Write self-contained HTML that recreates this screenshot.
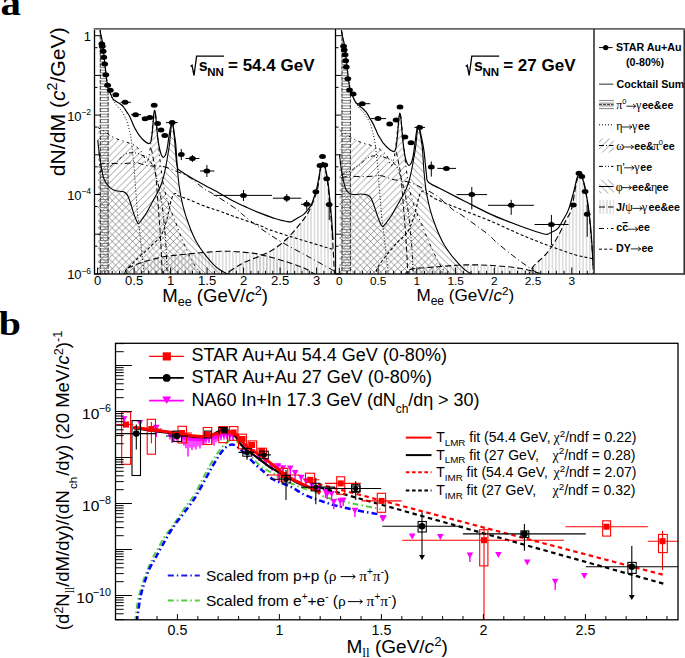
<!DOCTYPE html><html><head><meta charset="utf-8"><style>html,body{margin:0;padding:0;background:#fff;overflow:hidden;width:685px;height:658px;}svg{display:block;}</style></head><body><svg width="685" height="658" viewBox="0 0 685 658">
<defs>
<clipPath id="cL"><rect x="94" y="29" width="241.5" height="245"/></clipPath>
<clipPath id="cR"><rect x="335.5" y="29" width="258.5" height="245"/></clipPath>
<clipPath id="cB"><rect x="115.5" y="343.3" width="562.5" height="276.5"/></clipPath>
<pattern id="hS" patternUnits="userSpaceOnUse" width="6.8" height="6.8"><path d="M-1,1 L1,-1 M-1,7.8 L7.8,-1 M5.8,7.8 L7.8,5.8" stroke="#787878" stroke-width="0.75" fill="none"/></pattern>
<pattern id="hB" patternUnits="userSpaceOnUse" width="6.8" height="6.8"><path d="M-1,-1 L7.8,7.8 M5.8,-1 L7.8,1 M-1,5.8 L1,7.8" stroke="#787878" stroke-width="0.75" fill="none"/></pattern>
<pattern id="hV" patternUnits="userSpaceOnUse" width="3.4" height="10"><line x1="1.7" y1="0" x2="1.7" y2="10" stroke="#b4b4b4" stroke-width="0.8"/></pattern>
<pattern id="hH" patternUnits="userSpaceOnUse" width="10" height="2.75"><line x1="0" y1="1.4" x2="10" y2="1.4" stroke="#7c7c7c" stroke-width="1.0"/></pattern>
</defs>
<rect width="685" height="658" fill="#fff"/>
<text transform="translate(0.4,15.2) scale(1.17,1)" font-family="Liberation Serif, serif" font-weight="bold" font-size="35">a</text>
<text transform="translate(-1.3,334.6) scale(1.17,1)" font-family="Liberation Serif, serif" font-weight="bold" font-size="34">b</text>
<g clip-path="url(#cL)">
<path d="M124.0,276.0 C124.5,274.8 125.0,270.6 126.8,268.8 C128.6,267.0 131.7,266.3 135.0,265.0 C138.3,263.7 141.9,262.3 146.5,261.0 C151.1,259.7 158.4,257.9 162.3,257.0 C166.2,256.1 164.2,256.6 170.0,255.9 C175.8,255.2 188.3,253.9 197.4,253.1 C206.5,252.3 215.7,251.2 224.8,251.2 C233.9,251.2 245.3,252.3 252.2,253.1 C259.0,253.9 260.4,254.5 265.9,255.9 C271.4,257.3 279.3,259.5 285.0,261.3 C290.7,263.1 296.3,265.1 300.0,266.5 C303.7,267.9 304.0,267.9 307.0,269.5 C310.0,271.1 316.2,274.9 318.0,276.0 L318.0,276 L124.0,276 Z" fill="url(#hV)" stroke="none"/>
<path d="M222.0,277.0 C222.5,276.6 221.6,277.1 224.8,274.9 C228.0,272.7 235.3,267.2 241.2,264.0 C247.1,260.8 254.8,258.4 260.3,255.9 C265.8,253.4 269.4,252.0 274.0,249.0 C278.6,246.0 283.6,241.9 287.7,238.0 C291.8,234.1 295.4,229.6 298.6,225.7 C301.8,221.8 304.5,218.4 306.8,214.8 C309.1,211.2 310.5,208.5 312.3,203.9 C314.1,199.3 316.4,193.7 317.8,187.5 C319.2,181.3 319.8,171.1 320.5,167.0 C321.2,162.9 321.8,163.7 322.3,163.2 C322.9,162.7 323.3,162.9 323.8,164.0 C324.3,165.1 324.9,167.0 325.5,170.0 C326.1,173.0 326.8,177.0 327.5,182.0 C328.2,187.0 328.8,193.0 329.5,200.0 C330.2,207.0 330.9,215.7 331.5,224.0 C332.1,232.3 332.7,241.3 333.2,250.0 C333.7,258.7 334.3,271.7 334.5,276.0 L334.5,276 L222.0,276 Z" fill="url(#hV)" stroke="none"/>
<path d="M97.8,140.0 C97.9,141.3 98.3,145.5 98.6,148.0 C98.9,150.5 99.1,152.7 99.4,155.0 C99.7,157.3 100.1,159.5 100.5,162.0 C100.9,164.5 101.3,167.4 101.8,170.0 C102.3,172.6 102.9,175.6 103.5,177.5 C104.1,179.4 104.6,180.3 105.2,181.5 C105.8,182.7 106.3,183.4 107.1,184.4 C107.9,185.4 108.9,186.6 110.0,187.5 C111.1,188.4 112.3,189.4 113.6,190.0 C114.9,190.6 116.6,190.8 118.0,191.0 C119.4,191.2 120.9,191.3 122.0,191.5 C123.1,191.7 123.8,191.8 124.5,192.2 C125.2,192.6 125.9,193.1 126.5,193.8 C127.1,194.5 127.3,194.7 128.0,196.2 C128.7,197.7 129.6,200.4 130.5,203.0 C131.4,205.6 132.3,209.3 133.2,211.9 C134.0,214.5 134.9,216.8 135.6,218.5 C136.3,220.2 136.8,221.4 137.3,222.3 C137.8,223.2 138.0,223.7 138.4,223.7 C138.8,223.7 139.1,223.3 139.8,222.5 C140.5,221.7 141.4,220.4 142.5,218.8 C143.6,217.2 145.0,215.3 146.3,213.2 C147.6,211.1 148.9,208.4 150.2,206.0 C151.5,203.6 152.9,201.1 154.1,198.8 C155.3,196.6 156.4,194.7 157.5,192.5 C158.6,190.3 159.7,188.4 160.7,185.8 C161.7,183.2 162.6,180.3 163.5,177.0 C164.4,173.7 165.2,169.8 165.9,166.1 C166.6,162.4 167.2,158.3 167.8,155.0 C168.4,151.7 168.8,149.7 169.2,146.5 C169.6,143.3 170.0,139.2 170.3,136.0 C170.6,132.8 170.9,129.2 171.2,127.0 C171.5,124.8 171.8,123.2 172.1,123.0 C172.4,122.8 172.7,123.8 173.0,125.5 C173.3,127.2 173.8,130.0 174.2,133.0 C174.6,136.0 175.3,140.0 175.7,143.7 C176.1,147.4 176.2,151.1 176.5,155.0 C176.8,158.9 176.9,162.2 177.3,167.4 C177.8,172.6 178.3,180.1 179.2,186.4 C180.1,192.7 181.2,199.0 182.8,205.3 C184.4,211.6 186.5,218.4 188.7,224.3 C190.9,230.2 193.1,235.8 195.9,241.0 C198.7,246.2 202.2,251.1 205.4,255.2 C208.6,259.3 212.0,263.2 214.8,265.8 C217.6,268.4 219.6,269.5 222.0,271.0 C224.4,272.5 227.5,274.0 229.0,275.0 C230.5,276.0 230.7,276.7 231.0,277.0 L231.0,276 L97.8,276 Z" fill="url(#hB)" stroke="none"/>
<path d="M97.8,127.0 C98.2,127.3 99.0,128.3 100.0,129.0 C101.0,129.7 102.7,130.2 104.0,131.0 C105.3,131.8 106.7,133.1 108.0,134.0 C109.3,134.9 110.7,135.8 112.0,136.5 C113.3,137.2 114.7,137.9 116.0,138.5 C117.3,139.1 118.5,139.5 120.0,140.0 C121.5,140.5 123.5,141.0 125.0,141.5 C126.5,142.0 127.6,142.5 129.0,143.0 C130.4,143.5 132.0,143.9 133.2,144.5 C134.4,145.1 135.1,145.8 136.0,146.5 C136.9,147.2 137.8,147.9 138.6,148.7 C139.4,149.4 140.3,150.1 141.0,151.0 C141.7,151.9 142.4,152.8 143.0,154.0 C143.6,155.2 144.1,156.5 144.6,158.0 C145.1,159.5 145.4,162.3 145.8,163.0 C146.2,163.7 146.7,163.0 147.2,162.0 C147.7,161.0 148.3,159.3 148.8,157.0 C149.3,154.7 149.8,151.5 150.3,148.0 C150.8,144.5 151.2,139.8 151.6,136.0 C152.0,132.2 152.3,128.5 152.6,125.0 C152.9,121.5 153.3,117.2 153.6,115.0 C153.9,112.8 154.1,111.9 154.4,111.5 C154.7,111.1 154.9,111.2 155.2,112.5 C155.5,113.8 155.8,116.2 156.1,119.0 C156.4,121.8 156.7,125.5 157.0,129.0 C157.3,132.5 157.7,136.5 158.0,140.0 C158.3,143.5 158.7,146.7 159.0,150.0 C159.3,153.3 159.6,156.3 160.0,160.0 C160.4,163.7 161.0,168.3 161.5,172.0 C162.0,175.7 162.4,178.7 163.0,182.0 C163.6,185.3 164.2,188.8 165.0,192.0 C165.8,195.2 166.6,197.8 167.6,201.0 C168.6,204.2 169.7,207.5 171.0,211.0 C172.3,214.5 174.0,218.2 175.5,222.0 C177.0,225.8 178.4,230.0 180.0,234.0 C181.6,238.0 183.3,242.2 185.0,246.0 C186.7,249.8 188.3,253.7 190.0,257.0 C191.7,260.3 193.3,263.3 195.0,266.0 C196.7,268.7 198.7,271.2 200.0,273.0 C201.3,274.8 202.5,276.3 203.0,277.0 L203.0,276 L97.8,276 Z" fill="url(#hS)" stroke="none"/>
<path d="M99.8,276 L99.8,29.6 L100.5,34.7 L101.3,38.1 L102.0,41.5 L102.7,46.6 L103.5,52.8 L104.2,59.0 L104.9,65.6 L105.7,72.6 L106.4,79.6 L107.1,84.5 L107.9,88.7 L108.6,90.8 L108.6,276 Z" fill="url(#hH)"/>
<line x1="100.3" y1="29.6" x2="100.3" y2="276" stroke="#333" stroke-width="1.0" stroke-dasharray="4,1.6"/>
<line x1="108.1" y1="90.8" x2="108.1" y2="276" stroke="#333" stroke-width="1.0" stroke-dasharray="4,1.6"/>
<path d="M99.5,26.0 C99.8,27.7 100.4,32.0 101.0,36.0 C101.6,40.0 102.3,45.2 103.0,50.0 C103.7,54.8 104.3,60.2 105.0,65.0 C105.7,69.8 106.3,75.0 107.0,79.0 C107.7,83.0 108.4,86.5 109.0,89.0 C109.6,91.5 109.9,92.0 110.5,93.7 C111.1,95.5 112.0,98.0 112.7,99.5 C113.5,101.0 114.2,101.9 115.0,103.0 C115.8,104.1 116.7,105.3 117.5,106.3 C118.3,107.3 119.2,108.0 120.0,109.0 C120.8,110.0 121.6,111.1 122.5,112.5 C123.4,113.9 124.5,115.9 125.2,117.4 C126.0,118.9 126.4,119.6 127.0,121.5 C127.6,123.4 128.4,126.6 128.9,128.7 C129.4,130.8 129.8,131.9 130.2,134.0 C130.6,136.1 131.0,138.0 131.4,141.1 C131.8,144.2 132.2,148.4 132.6,152.3 C133.0,156.2 133.5,159.9 133.9,164.8 C134.3,169.8 134.7,176.1 135.1,182.0 C135.5,187.9 136.1,194.7 136.5,200.0 C136.9,205.3 137.1,210.2 137.5,214.0 C137.9,217.8 138.2,218.6 138.7,222.9 C139.2,227.2 139.9,234.5 140.5,240.0 C141.1,245.5 141.6,250.8 142.2,256.0 C142.8,261.2 143.6,268.2 143.9,271.5 C144.2,274.8 144.2,275.2 144.3,276.0" fill="none" stroke="#000" stroke-width="1.0" stroke-dasharray="1,2" />
<path d="M97.8,127.0 C98.2,127.3 99.0,128.3 100.0,129.0 C101.0,129.7 102.7,130.2 104.0,131.0 C105.3,131.8 106.7,133.1 108.0,134.0 C109.3,134.9 110.7,135.8 112.0,136.5 C113.3,137.2 114.7,137.9 116.0,138.5 C117.3,139.1 118.5,139.5 120.0,140.0 C121.5,140.5 123.5,141.0 125.0,141.5 C126.5,142.0 127.6,142.5 129.0,143.0 C130.4,143.5 132.0,143.9 133.2,144.5 C134.4,145.1 135.1,145.8 136.0,146.5 C136.9,147.2 137.8,147.9 138.6,148.7 C139.4,149.4 140.3,150.1 141.0,151.0 C141.7,151.9 142.4,152.8 143.0,154.0 C143.6,155.2 144.1,156.5 144.6,158.0 C145.1,159.5 145.4,162.3 145.8,163.0 C146.2,163.7 146.7,163.0 147.2,162.0 C147.7,161.0 148.3,159.3 148.8,157.0 C149.3,154.7 149.8,151.5 150.3,148.0 C150.8,144.5 151.2,139.8 151.6,136.0 C152.0,132.2 152.3,128.5 152.6,125.0 C152.9,121.5 153.3,117.2 153.6,115.0 C153.9,112.8 154.1,111.9 154.4,111.5 C154.7,111.1 154.9,111.2 155.2,112.5 C155.5,113.8 155.8,116.2 156.1,119.0 C156.4,121.8 156.7,125.5 157.0,129.0 C157.3,132.5 157.7,136.5 158.0,140.0 C158.3,143.5 158.7,146.7 159.0,150.0 C159.3,153.3 159.6,156.3 160.0,160.0 C160.4,163.7 161.0,168.3 161.5,172.0 C162.0,175.7 162.4,178.7 163.0,182.0 C163.6,185.3 164.2,188.8 165.0,192.0 C165.8,195.2 166.6,197.8 167.6,201.0 C168.6,204.2 169.7,207.5 171.0,211.0 C172.3,214.5 174.0,218.2 175.5,222.0 C177.0,225.8 178.4,230.0 180.0,234.0 C181.6,238.0 183.3,242.2 185.0,246.0 C186.7,249.8 188.3,253.7 190.0,257.0 C191.7,260.3 193.3,263.3 195.0,266.0 C196.7,268.7 198.7,271.2 200.0,273.0 C201.3,274.8 202.5,276.3 203.0,277.0" fill="none" stroke="#000" stroke-width="1.0" stroke-dasharray="3,3.5,1,3.5" />
<path d="M99.0,172.0 C99.8,171.7 102.2,170.9 104.0,170.0 C105.8,169.1 108.3,167.8 109.8,166.8 C111.3,165.8 111.8,164.9 113.0,164.0 C114.2,163.1 116.0,162.5 117.3,161.5 C118.5,160.5 119.4,159.1 120.5,158.0 C121.6,156.9 122.3,155.9 123.7,155.1 C125.1,154.3 126.9,153.3 129.0,153.0 C131.1,152.7 134.3,152.7 136.4,153.0 C138.5,153.3 139.9,154.4 141.7,155.1 C143.5,155.8 145.8,156.3 147.0,157.2 C148.2,158.1 148.2,158.9 149.2,160.4 C150.2,161.9 151.9,163.4 153.0,166.0 C154.1,168.6 155.0,172.3 156.0,176.0 C157.0,179.7 158.0,183.2 159.0,188.0 C160.0,192.8 161.2,199.3 162.0,205.0 C162.8,210.7 163.4,216.2 164.0,222.0 C164.6,227.8 165.2,234.0 165.6,240.0 C166.0,246.0 166.3,252.0 166.6,258.0 C166.9,264.0 167.1,273.0 167.2,276.0" fill="none" stroke="#000" stroke-width="1.0" stroke-dasharray="4,2,1,2,1,2" />
<path d="M99.0,165.0 C99.8,164.8 102.3,163.8 104.0,163.5 C105.7,163.2 106.8,163.3 109.0,163.3 C111.2,163.3 114.8,163.6 117.3,163.6 C119.8,163.6 121.6,163.7 123.7,163.6 C125.8,163.5 127.9,163.3 130.0,163.1 C132.1,162.9 134.5,162.4 136.4,162.6 C138.3,162.8 139.9,163.7 141.7,164.2 C143.5,164.7 145.3,165.2 147.0,165.5 C148.7,165.8 150.1,165.9 152.0,166.0 C153.9,166.1 156.1,165.8 158.3,166.0 C160.5,166.2 162.3,166.2 165.0,167.0 C167.7,167.8 170.6,168.8 174.5,170.5 C178.4,172.2 183.5,173.7 188.7,176.9 C193.9,180.1 201.5,187.1 205.5,189.9 C209.5,192.7 207.4,190.3 212.5,193.5 C217.6,196.7 230.9,205.2 236.2,209.0 C241.5,212.8 240.3,212.7 244.4,216.0 C248.5,219.3 254.8,224.3 261.0,228.7 C267.2,233.0 273.7,237.4 281.7,242.1 C289.7,246.8 300.7,252.4 309.0,257.0 C317.3,261.6 326.8,266.9 331.3,269.4 C335.8,271.9 335.2,271.6 336.0,272.0" fill="none" stroke="#000" stroke-width="1.0" stroke-dasharray="6,3,1,3" />
<path d="M123.5,276.0 C123.9,275.0 124.6,272.0 126.0,270.0 C127.4,268.0 129.8,266.2 132.0,264.0 C134.2,261.8 136.6,259.3 139.0,257.0 C141.4,254.7 144.3,252.4 146.5,250.4 C148.7,248.4 149.8,247.2 152.0,245.0 C154.2,242.8 157.7,240.0 159.7,237.3 C161.7,234.6 162.7,232.5 164.0,229.0 C165.3,225.5 166.5,220.6 167.6,216.3 C168.7,212.0 169.6,206.6 170.5,203.0 C171.4,199.4 172.4,196.3 173.3,194.7 C174.2,193.1 175.3,193.4 176.0,193.5 C176.7,193.6 175.6,194.4 177.7,195.4 C179.8,196.4 184.1,197.7 188.7,199.5 C193.3,201.3 200.3,204.6 205.5,206.5 C210.7,208.4 215.0,209.5 219.6,211.1 C224.2,212.7 226.3,213.7 233.2,216.2 C240.1,218.7 255.0,223.7 261.0,225.9 C267.0,228.2 262.8,227.4 269.3,229.7 C275.8,232.0 289.2,236.2 300.0,239.5 C310.8,242.8 327.8,247.8 333.8,249.6 C339.8,251.4 335.6,250.2 336.0,250.3" fill="none" stroke="#000" stroke-width="1.1" stroke-dasharray="3,2.2" />
<path d="M124.0,276.0 C124.5,274.8 125.0,270.6 126.8,268.8 C128.6,267.0 131.7,266.3 135.0,265.0 C138.3,263.7 141.9,262.3 146.5,261.0 C151.1,259.7 158.4,257.9 162.3,257.0 C166.2,256.1 164.2,256.6 170.0,255.9 C175.8,255.2 188.3,253.9 197.4,253.1 C206.5,252.3 215.7,251.2 224.8,251.2 C233.9,251.2 245.3,252.3 252.2,253.1 C259.0,253.9 260.4,254.5 265.9,255.9 C271.4,257.3 279.3,259.5 285.0,261.3 C290.7,263.1 296.3,265.1 300.0,266.5 C303.7,267.9 304.0,267.9 307.0,269.5 C310.0,271.1 316.2,274.9 318.0,276.0" fill="none" stroke="#000" stroke-width="1.1" stroke-dasharray="6,3" />
<path d="M222.0,277.0 C222.5,276.6 221.6,277.1 224.8,274.9 C228.0,272.7 235.3,267.2 241.2,264.0 C247.1,260.8 254.8,258.4 260.3,255.9 C265.8,253.4 269.4,252.0 274.0,249.0 C278.6,246.0 283.6,241.9 287.7,238.0 C291.8,234.1 295.4,229.6 298.6,225.7 C301.8,221.8 304.5,218.4 306.8,214.8 C309.1,211.2 310.5,208.5 312.3,203.9 C314.1,199.3 316.4,193.7 317.8,187.5 C319.2,181.3 319.8,171.1 320.5,167.0 C321.2,162.9 321.8,163.7 322.3,163.2 C322.9,162.7 323.3,162.9 323.8,164.0 C324.3,165.1 324.9,167.0 325.5,170.0 C326.1,173.0 326.8,177.0 327.5,182.0 C328.2,187.0 328.8,193.0 329.5,200.0 C330.2,207.0 330.9,215.7 331.5,224.0 C332.1,232.3 332.7,241.3 333.2,250.0 C333.7,258.7 334.3,271.7 334.5,276.0" fill="none" stroke="#000" stroke-width="1.1" stroke-dasharray="6,3" />
<path d="M151.3,148.7 C151.7,150.6 152.8,156.1 153.5,160.0 C154.2,163.9 154.9,167.0 155.5,172.0 C156.1,177.0 156.5,183.7 157.0,190.0 C157.5,196.3 158.0,203.3 158.5,210.0 C159.0,216.7 159.6,223.3 160.0,230.0 C160.4,236.7 160.8,242.3 161.2,250.0 C161.6,257.7 162.1,271.7 162.3,276.0" fill="none" stroke="#000" stroke-width="1.0" stroke-dasharray="5,3" />
<path d="M97.8,140.0 C97.9,141.3 98.3,145.5 98.6,148.0 C98.9,150.5 99.1,152.7 99.4,155.0 C99.7,157.3 100.1,159.5 100.5,162.0 C100.9,164.5 101.3,167.4 101.8,170.0 C102.3,172.6 102.9,175.6 103.5,177.5 C104.1,179.4 104.6,180.3 105.2,181.5 C105.8,182.7 106.3,183.4 107.1,184.4 C107.9,185.4 108.9,186.6 110.0,187.5 C111.1,188.4 112.3,189.4 113.6,190.0 C114.9,190.6 116.6,190.8 118.0,191.0 C119.4,191.2 120.9,191.3 122.0,191.5 C123.1,191.7 123.8,191.8 124.5,192.2 C125.2,192.6 125.9,193.1 126.5,193.8 C127.1,194.5 127.3,194.7 128.0,196.2 C128.7,197.7 129.6,200.4 130.5,203.0 C131.4,205.6 132.3,209.3 133.2,211.9 C134.0,214.5 134.9,216.8 135.6,218.5 C136.3,220.2 136.8,221.4 137.3,222.3 C137.8,223.2 138.0,223.7 138.4,223.7 C138.8,223.7 139.1,223.3 139.8,222.5 C140.5,221.7 141.4,220.4 142.5,218.8 C143.6,217.2 145.0,215.3 146.3,213.2 C147.6,211.1 148.9,208.4 150.2,206.0 C151.5,203.6 152.9,201.1 154.1,198.8 C155.3,196.6 156.4,194.7 157.5,192.5 C158.6,190.3 159.7,188.4 160.7,185.8 C161.7,183.2 162.6,180.3 163.5,177.0 C164.4,173.7 165.2,169.8 165.9,166.1 C166.6,162.4 167.2,158.3 167.8,155.0 C168.4,151.7 168.8,149.7 169.2,146.5 C169.6,143.3 170.0,139.2 170.3,136.0 C170.6,132.8 170.9,129.2 171.2,127.0 C171.5,124.8 171.8,123.2 172.1,123.0 C172.4,122.8 172.7,123.8 173.0,125.5 C173.3,127.2 173.8,130.0 174.2,133.0 C174.6,136.0 175.3,140.0 175.7,143.7 C176.1,147.4 176.2,151.1 176.5,155.0 C176.8,158.9 176.9,162.2 177.3,167.4 C177.8,172.6 178.3,180.1 179.2,186.4 C180.1,192.7 181.2,199.0 182.8,205.3 C184.4,211.6 186.5,218.4 188.7,224.3 C190.9,230.2 193.1,235.8 195.9,241.0 C198.7,246.2 202.2,251.1 205.4,255.2 C208.6,259.3 212.0,263.2 214.8,265.8 C217.6,268.4 219.6,269.5 222.0,271.0 C224.4,272.5 227.5,274.0 229.0,275.0 C230.5,276.0 230.7,276.7 231.0,277.0" fill="none" stroke="#000" stroke-width="1.1" />
<path d="M99.5,26.0 C99.7,27.2 100.0,30.4 100.5,33.0 C101.0,35.6 101.6,36.9 102.3,41.4 C103.0,45.9 103.8,53.6 104.5,60.0 C105.2,66.4 106.0,75.3 106.6,80.0 C107.2,84.7 107.4,85.9 108.0,88.0 C108.6,90.1 109.2,90.8 110.0,92.5 C110.8,94.2 111.7,97.0 112.7,98.5 C113.8,100.0 115.3,100.7 116.3,101.5 C117.3,102.3 118.1,102.5 118.9,103.1 C119.7,103.6 120.5,104.1 121.3,104.8 C122.1,105.5 123.0,106.2 123.9,107.5 C124.9,108.8 126.2,111.2 127.0,112.4 C127.8,113.7 128.2,113.7 128.9,115.0 C129.7,116.3 130.7,118.6 131.5,120.5 C132.3,122.4 133.1,124.5 133.9,126.2 C134.7,128.0 135.7,129.6 136.5,131.0 C137.3,132.4 138.1,133.8 138.9,134.9 C139.7,136.0 140.5,136.9 141.3,137.8 C142.1,138.7 143.0,139.7 143.9,140.5 C144.8,141.3 145.7,142.0 146.5,142.5 C147.3,143.0 148.2,143.6 148.8,143.6 C149.4,143.6 149.9,143.1 150.3,142.5 C150.7,141.9 151.0,141.7 151.3,139.9 C151.6,138.2 152.0,135.0 152.3,132.0 C152.6,129.0 152.9,125.2 153.2,122.0 C153.5,118.8 153.8,115.0 154.0,113.0 C154.2,111.0 154.5,110.0 154.7,110.0 C154.9,110.0 155.1,110.9 155.4,113.0 C155.7,115.1 156.0,119.1 156.3,122.4 C156.6,125.7 156.9,129.9 157.2,133.0 C157.5,136.1 157.8,138.3 158.2,141.1 C158.6,143.8 159.2,147.2 159.7,149.5 C160.2,151.8 160.8,153.5 161.3,154.8 C161.9,156.1 162.5,157.0 163.0,157.3 C163.5,157.6 163.9,157.3 164.5,156.5 C165.1,155.7 165.8,154.1 166.3,152.3 C166.8,150.6 167.2,148.5 167.6,146.0 C168.0,143.5 168.4,140.4 168.8,137.4 C169.2,134.4 169.9,130.2 170.3,128.0 C170.7,125.8 171.1,124.8 171.4,124.0 C171.7,123.2 171.8,123.1 172.1,123.2 C172.3,123.3 172.6,123.2 172.9,124.5 C173.2,125.8 173.5,128.3 173.8,131.2 C174.1,134.1 174.5,138.5 174.8,142.0 C175.1,145.5 175.3,148.7 175.6,152.0 C175.9,155.3 176.2,159.3 176.5,162.0 C176.8,164.7 177.3,166.7 177.7,168.0 C178.1,169.3 176.9,168.5 179.0,170.0 C181.1,171.5 185.6,174.4 190.0,177.0 C194.4,179.6 200.5,182.9 205.5,185.7 C210.5,188.4 215.4,190.9 220.0,193.5 C224.6,196.1 228.7,198.7 233.2,201.0 C237.7,203.3 242.4,205.4 247.0,207.5 C251.6,209.6 256.3,211.6 261.0,213.4 C265.7,215.2 270.4,217.1 275.0,218.5 C279.6,219.9 285.8,221.4 288.7,221.8 C291.6,222.2 291.3,221.6 292.7,221.0 C294.1,220.4 295.0,219.6 296.8,218.5 C298.6,217.4 301.8,216.0 303.7,214.4 C305.6,212.8 307.1,210.7 308.5,208.9 C309.9,207.1 310.9,205.6 311.9,203.4 C312.9,201.2 313.7,198.6 314.5,196.0 C315.3,193.4 316.1,191.2 316.8,188.0 C317.6,184.8 318.3,180.5 319.0,177.0 C319.7,173.5 320.2,169.4 320.8,167.0 C321.4,164.6 321.8,163.3 322.3,162.7 C322.8,162.1 323.3,162.4 323.8,163.5 C324.3,164.6 324.9,166.4 325.5,169.0 C326.1,171.6 326.8,174.3 327.5,178.8 C328.2,183.3 328.8,189.1 329.5,196.0 C330.2,202.9 331.1,213.1 331.7,220.4 C332.3,227.7 332.8,236.7 333.0,240.0" fill="none" stroke="#000" stroke-width="1.2" />
</g>
<ellipse cx="101.8" cy="44.0" rx="3.4" ry="2.5" fill="#000"/>
<ellipse cx="102.3" cy="46.3" rx="3.4" ry="2.5" fill="#000"/>
<ellipse cx="103.1" cy="51.3" rx="3.4" ry="2.5" fill="#000"/>
<ellipse cx="103.8" cy="57.2" rx="3.4" ry="2.5" fill="#000"/>
<ellipse cx="104.7" cy="63.9" rx="3.4" ry="2.5" fill="#000"/>
<ellipse cx="105.8" cy="74.8" rx="3.4" ry="2.5" fill="#000"/>
<ellipse cx="107.6" cy="85.2" rx="3.4" ry="2.5" fill="#000"/>
<ellipse cx="110.3" cy="90.2" rx="3.4" ry="2.5" fill="#000"/>
<ellipse cx="115.8" cy="94.7" rx="3.4" ry="2.5" fill="#000"/>
<line x1="120.6" y1="102.3" x2="130.9" y2="102.3" stroke="#000" stroke-width="1"/>
<ellipse cx="125.1" cy="102.3" rx="3.4" ry="2.5" fill="#000"/>
<line x1="131.0" y1="114.7" x2="141.0" y2="114.7" stroke="#000" stroke-width="1"/>
<ellipse cx="135.6" cy="114.7" rx="3.4" ry="2.5" fill="#000"/>
<ellipse cx="145.1" cy="118.7" rx="3.4" ry="2.5" fill="#000"/>
<ellipse cx="149.8" cy="117.5" rx="3.4" ry="2.5" fill="#000"/>
<ellipse cx="154.2" cy="105.2" rx="3.4" ry="2.5" fill="#000"/>
<ellipse cx="157.6" cy="123.6" rx="3.4" ry="2.5" fill="#000"/>
<ellipse cx="161.0" cy="130.1" rx="3.4" ry="2.5" fill="#000"/>
<ellipse cx="164.8" cy="135.4" rx="3.4" ry="2.5" fill="#000"/>
<line x1="166.0" y1="122.6" x2="177.7" y2="122.6" stroke="#000" stroke-width="1"/>
<ellipse cx="172.2" cy="122.6" rx="3.4" ry="2.5" fill="#000"/>
<line x1="181.3" y1="149.0" x2="181.3" y2="160.0" stroke="#000" stroke-width="1"/>
<ellipse cx="181.3" cy="154.4" rx="3.4" ry="2.5" fill="#000"/>
<line x1="185.5" y1="158.5" x2="199.4" y2="158.5" stroke="#000" stroke-width="1"/>
<line x1="192.4" y1="155.0" x2="192.4" y2="162.0" stroke="#000" stroke-width="1"/>
<ellipse cx="192.4" cy="158.5" rx="3.4" ry="2.5" fill="#000"/>
<line x1="200.0" y1="171.0" x2="214.4" y2="171.0" stroke="#000" stroke-width="1"/>
<line x1="206.9" y1="165.0" x2="206.9" y2="177.0" stroke="#000" stroke-width="1"/>
<ellipse cx="206.9" cy="171.0" rx="3.4" ry="2.5" fill="#000"/>
<line x1="213.8" y1="195.4" x2="272.0" y2="195.4" stroke="#000" stroke-width="1"/>
<line x1="243.5" y1="190.0" x2="243.5" y2="201.0" stroke="#000" stroke-width="1"/>
<ellipse cx="243.5" cy="195.4" rx="3.4" ry="2.5" fill="#000"/>
<line x1="272.9" y1="198.2" x2="301.2" y2="198.2" stroke="#000" stroke-width="1"/>
<line x1="286.8" y1="194.0" x2="286.8" y2="202.0" stroke="#000" stroke-width="1"/>
<ellipse cx="286.8" cy="198.2" rx="3.4" ry="2.5" fill="#000"/>
<line x1="301.0" y1="204.3" x2="312.0" y2="204.3" stroke="#000" stroke-width="1"/>
<line x1="306.7" y1="200.0" x2="306.7" y2="209.6" stroke="#000" stroke-width="1"/>
<ellipse cx="306.7" cy="204.3" rx="3.4" ry="2.5" fill="#000"/>
<ellipse cx="315.9" cy="191.8" rx="3.4" ry="2.5" fill="#000"/>
<ellipse cx="320.0" cy="165.5" rx="3.4" ry="2.5" fill="#000"/>
<ellipse cx="322.5" cy="156.6" rx="3.4" ry="2.5" fill="#000"/>
<ellipse cx="324.8" cy="164.9" rx="3.4" ry="2.5" fill="#000"/>
<ellipse cx="326.7" cy="178.8" rx="3.4" ry="2.5" fill="#000"/>
<line x1="329.2" y1="198.0" x2="329.2" y2="220.0" stroke="#000" stroke-width="1"/>
<ellipse cx="329.2" cy="204.6" rx="3.4" ry="2.5" fill="#000"/>
<g clip-path="url(#cR)">
<path d="M405.0,277.0 C405.8,275.8 404.6,271.2 410.0,269.5 C415.4,267.8 428.3,267.6 437.4,266.8 C446.5,266.0 455.6,265.1 464.7,264.9 C473.8,264.7 483.0,264.9 492.1,265.5 C501.2,266.1 511.2,266.8 519.4,268.2 C527.6,269.6 537.0,272.2 541.3,273.7 C545.6,275.2 544.4,276.4 545.0,277.0 L545.0,276 L405.0,276 Z" fill="url(#hV)" stroke="none"/>
<path d="M528.0,277.0 C528.8,275.3 529.9,270.8 533.0,266.8 C536.1,262.8 542.7,258.2 546.8,253.2 C550.9,248.2 554.5,242.3 557.7,236.8 C560.9,231.3 563.6,224.9 565.9,220.3 C568.2,215.7 569.8,214.9 571.4,209.4 C573.0,203.9 574.4,193.0 575.5,187.5 C576.6,182.0 577.4,178.5 578.2,176.5 C579.0,174.5 579.5,175.2 580.2,175.5 C580.9,175.8 581.6,176.8 582.3,178.5 C583.0,180.2 583.8,183.1 584.5,186.0 C585.2,188.9 585.7,192.0 586.4,196.0 C587.1,200.0 587.8,204.6 588.5,210.0 C589.2,215.4 589.8,221.1 590.5,228.6 C591.2,236.1 592.0,246.9 592.5,255.0 C593.0,263.1 593.3,273.3 593.5,277.0 L593.5,276 L528.0,276 Z" fill="url(#hV)" stroke="none"/>
<path d="M339.5,154.9 C339.7,156.1 340.1,160.0 340.4,162.3 C340.6,164.7 340.9,166.7 341.2,168.8 C341.5,170.9 342.0,172.9 342.4,175.1 C342.8,177.3 343.2,180.0 343.8,182.2 C344.3,184.5 345.0,187.1 345.6,188.6 C346.2,190.2 346.7,190.7 347.4,191.5 C348.0,192.3 348.5,192.7 349.4,193.2 C350.2,193.6 351.3,194.1 352.5,194.3 C353.6,194.6 354.9,194.5 356.3,194.5 C357.7,194.4 359.5,194.0 361.0,194.0 C362.4,194.0 364.1,194.3 365.2,194.5 C366.4,194.7 367.1,194.8 367.9,195.2 C368.7,195.6 369.4,196.1 370.0,196.8 C370.6,197.5 370.9,197.7 371.6,199.2 C372.3,200.7 373.3,203.4 374.2,206.0 C375.1,208.6 376.2,212.3 377.1,214.9 C378.0,217.5 378.9,219.8 379.6,221.5 C380.4,223.2 381.0,224.4 381.4,225.3 C381.9,226.2 382.2,226.7 382.6,226.7 C383.1,226.7 383.4,226.3 384.1,225.5 C384.8,224.7 385.8,223.4 387.0,221.8 C388.1,220.2 389.6,218.3 391.0,216.2 C392.4,214.1 393.8,211.4 395.1,209.0 C396.5,206.6 398.0,204.1 399.3,201.8 C400.6,199.6 401.7,197.7 402.9,195.5 C404.1,193.3 405.2,191.4 406.3,188.8 C407.4,186.2 408.3,183.3 409.3,180.0 C410.2,176.7 411.0,172.8 411.8,169.1 C412.6,165.4 413.2,161.3 413.8,158.0 C414.4,154.7 414.9,152.7 415.3,149.5 C415.8,146.3 416.1,142.2 416.5,139.0 C416.8,135.8 417.1,132.2 417.4,130.0 C417.8,127.8 418.1,126.2 418.4,126.0 C418.7,125.8 419.0,126.8 419.3,128.5 C419.7,130.2 420.1,133.0 420.6,136.0 C421.1,139.0 421.8,143.0 422.2,146.7 C422.6,150.4 422.8,154.1 423.1,158.0 C423.3,161.9 423.4,165.2 423.9,170.4 C424.4,175.6 425.0,183.1 425.9,189.4 C426.9,195.7 428.1,202.0 429.8,208.3 C431.4,214.6 433.7,221.4 436.0,227.3 C438.3,233.2 440.7,238.8 443.7,244.0 C446.6,249.2 450.4,254.1 453.7,258.2 C457.1,262.3 460.8,266.2 463.7,268.8 C466.7,271.4 468.9,272.5 471.4,274.0 C473.9,275.5 477.2,277.0 478.8,278.0 C480.4,279.0 480.6,279.7 480.9,280.0 L480.9,276 L339.5,276 Z" fill="url(#hB)" stroke="none"/>
<path d="M339.5,130.0 C339.9,130.3 340.8,131.3 341.8,132.0 C342.9,132.7 344.7,133.2 346.1,134.0 C347.5,134.8 348.9,136.1 350.3,137.0 C351.8,137.9 353.2,138.8 354.6,139.5 C356.0,140.2 357.4,140.9 358.8,141.5 C360.2,142.1 361.5,142.5 363.1,143.0 C364.7,143.5 366.8,144.0 368.4,144.5 C370.0,145.0 371.2,145.5 372.6,146.0 C374.1,146.5 375.9,146.9 377.1,147.5 C378.3,148.1 379.1,148.8 380.1,149.5 C381.0,150.2 381.9,150.9 382.8,151.7 C383.7,152.4 384.6,153.1 385.4,154.0 C386.2,154.9 386.9,155.8 387.5,157.0 C388.1,158.2 388.7,159.5 389.2,161.0 C389.7,162.5 390.0,165.3 390.5,166.0 C390.9,166.7 391.4,166.0 392.0,165.0 C392.5,164.0 393.1,162.3 393.7,160.0 C394.2,157.7 394.8,154.5 395.2,151.0 C395.7,147.5 396.2,142.8 396.6,139.0 C397.0,135.2 397.3,131.5 397.7,128.0 C398.0,124.5 398.4,120.2 398.8,118.0 C399.1,115.8 399.3,114.9 399.6,114.5 C399.9,114.1 400.1,114.2 400.5,115.5 C400.8,116.8 401.1,119.2 401.4,122.0 C401.7,124.8 402.0,128.5 402.4,132.0 C402.7,135.5 403.1,139.5 403.4,143.0 C403.8,146.5 404.1,149.7 404.5,153.0 C404.8,156.3 405.1,159.3 405.5,163.0 C406.0,166.7 406.6,171.3 407.1,175.0 C407.7,178.7 408.1,181.7 408.7,185.0 C409.4,188.3 410.0,191.8 410.9,195.0 C411.7,198.2 412.6,200.8 413.6,204.0 C414.7,207.2 415.8,210.5 417.2,214.0 C418.6,217.5 420.4,221.2 422.0,225.0 C423.6,228.8 425.1,233.0 426.8,237.0 C428.5,241.0 430.3,245.2 432.1,249.0 C433.9,252.8 435.6,256.7 437.4,260.0 C439.2,263.3 440.9,266.3 442.7,269.0 C444.5,271.7 446.6,274.2 448.0,276.0 C449.4,277.8 450.7,279.3 451.2,280.0 L451.2,276 L339.5,276 Z" fill="url(#hS)" stroke="none"/>
<path d="M341.5,276 L341.5,31.8 L342.3,36.9 L343.1,40.5 L343.8,44.0 L344.6,48.6 L345.4,54.8 L346.2,61.0 L347.0,67.5 L347.7,74.5 L348.5,81.5 L349.3,86.9 L350.1,91.1 L350.9,93.6 L350.9,276 Z" fill="url(#hH)"/>
<line x1="342.0" y1="31.8" x2="342.0" y2="276" stroke="#333" stroke-width="1.0" stroke-dasharray="4,1.6"/>
<line x1="350.4" y1="93.6" x2="350.4" y2="276" stroke="#333" stroke-width="1.0" stroke-dasharray="4,1.6"/>
<path d="M341.3,29.0 C341.6,30.7 342.3,35.0 342.9,39.0 C343.5,43.0 344.3,48.2 345.0,53.0 C345.7,57.8 346.4,63.2 347.2,68.0 C347.9,72.8 348.6,78.0 349.3,82.0 C350.0,86.0 350.8,89.5 351.4,92.0 C352.0,94.5 352.3,95.0 353.0,96.7 C353.6,98.5 354.5,101.0 355.3,102.5 C356.1,104.0 356.9,104.9 357.8,106.0 C358.6,107.1 359.5,108.3 360.4,109.3 C361.3,110.3 362.2,111.0 363.1,112.0 C364.0,113.0 364.8,114.1 365.7,115.5 C366.7,116.9 367.8,118.9 368.6,120.4 C369.4,121.9 369.9,122.6 370.5,124.5 C371.2,126.4 372.0,129.6 372.5,131.7 C373.1,133.8 373.5,134.9 373.9,137.0 C374.4,139.1 374.8,141.0 375.2,144.1 C375.6,147.2 376.0,151.4 376.5,155.3 C376.9,159.2 377.4,162.9 377.8,167.8 C378.3,172.8 378.7,179.1 379.1,185.0 C379.6,190.9 380.2,197.7 380.6,203.0 C381.0,208.3 381.3,213.2 381.7,217.0 C382.0,220.8 382.4,221.6 382.9,225.9 C383.5,230.2 384.2,237.5 384.8,243.0 C385.5,248.5 386.0,253.8 386.6,259.0 C387.3,264.2 388.1,271.2 388.5,274.5 C388.8,277.8 388.8,278.2 388.9,279.0" fill="none" stroke="#000" stroke-width="1.0" stroke-dasharray="1,2" />
<path d="M339.5,130.0 C339.9,130.3 340.8,131.3 341.8,132.0 C342.9,132.7 344.7,133.2 346.1,134.0 C347.5,134.8 348.9,136.1 350.3,137.0 C351.8,137.9 353.2,138.8 354.6,139.5 C356.0,140.2 357.4,140.9 358.8,141.5 C360.2,142.1 361.5,142.5 363.1,143.0 C364.7,143.5 366.8,144.0 368.4,144.5 C370.0,145.0 371.2,145.5 372.6,146.0 C374.1,146.5 375.9,146.9 377.1,147.5 C378.3,148.1 379.1,148.8 380.1,149.5 C381.0,150.2 381.9,150.9 382.8,151.7 C383.7,152.4 384.6,153.1 385.4,154.0 C386.2,154.9 386.9,155.8 387.5,157.0 C388.1,158.2 388.7,159.5 389.2,161.0 C389.7,162.5 390.0,165.3 390.5,166.0 C390.9,166.7 391.4,166.0 392.0,165.0 C392.5,164.0 393.1,162.3 393.7,160.0 C394.2,157.7 394.8,154.5 395.2,151.0 C395.7,147.5 396.2,142.8 396.6,139.0 C397.0,135.2 397.3,131.5 397.7,128.0 C398.0,124.5 398.4,120.2 398.8,118.0 C399.1,115.8 399.3,114.9 399.6,114.5 C399.9,114.1 400.1,114.2 400.5,115.5 C400.8,116.8 401.1,119.2 401.4,122.0 C401.7,124.8 402.0,128.5 402.4,132.0 C402.7,135.5 403.1,139.5 403.4,143.0 C403.8,146.5 404.1,149.7 404.5,153.0 C404.8,156.3 405.1,159.3 405.5,163.0 C406.0,166.7 406.6,171.3 407.1,175.0 C407.7,178.7 408.1,181.7 408.7,185.0 C409.4,188.3 410.0,191.8 410.9,195.0 C411.7,198.2 412.6,200.8 413.6,204.0 C414.7,207.2 415.8,210.5 417.2,214.0 C418.6,217.5 420.4,221.2 422.0,225.0 C423.6,228.8 425.1,233.0 426.8,237.0 C428.5,241.0 430.3,245.2 432.1,249.0 C433.9,252.8 435.6,256.7 437.4,260.0 C439.2,263.3 440.9,266.3 442.7,269.0 C444.5,271.7 446.6,274.2 448.0,276.0 C449.4,277.8 450.7,279.3 451.2,280.0" fill="none" stroke="#000" stroke-width="1.0" stroke-dasharray="3,3.5,1,3.5" />
<path d="M340.8,175.0 C341.7,174.7 344.2,173.9 346.1,173.0 C348.0,172.1 350.7,170.8 352.3,169.8 C353.8,168.8 354.3,167.9 355.6,167.0 C357.0,166.1 358.9,165.5 360.2,164.5 C361.5,163.5 362.5,162.1 363.6,161.0 C364.7,159.9 365.5,158.9 367.0,158.1 C368.5,157.3 370.4,156.3 372.6,156.0 C374.9,155.7 378.2,155.7 380.5,156.0 C382.7,156.3 384.2,157.4 386.1,158.1 C388.0,158.8 390.4,159.3 391.7,160.2 C393.1,161.1 393.0,161.9 394.1,163.4 C395.1,164.9 396.9,166.4 398.1,169.0 C399.3,171.6 400.2,175.3 401.3,179.0 C402.4,182.7 403.4,186.2 404.5,191.0 C405.5,195.8 406.8,202.3 407.7,208.0 C408.6,213.7 409.2,219.2 409.8,225.0 C410.4,230.8 411.0,237.0 411.5,243.0 C412.0,249.0 412.3,255.0 412.6,261.0 C412.8,267.0 413.1,276.0 413.2,279.0" fill="none" stroke="#000" stroke-width="1.0" stroke-dasharray="4,2,1,2,1,2" />
<path d="M340.8,178.0 C341.7,177.8 344.3,176.8 346.1,176.5 C347.9,176.2 349.0,176.3 351.4,176.3 C353.8,176.3 357.6,176.6 360.2,176.6 C362.8,176.6 364.8,176.7 367.0,176.6 C369.3,176.5 371.5,176.3 373.7,176.1 C375.9,175.9 378.4,175.4 380.5,175.6 C382.6,175.8 384.2,176.6 386.1,177.2 C388.0,177.8 389.9,178.7 391.7,179.2 C393.6,179.7 395.1,179.9 397.1,180.2 C399.1,180.5 401.4,180.5 403.7,181.0 C406.0,181.4 408.0,181.7 410.9,182.7 C413.7,183.8 416.7,185.2 420.9,187.4 C425.1,189.5 430.5,191.6 436.0,195.4 C441.5,199.2 449.6,207.1 453.9,210.4 C458.1,213.6 455.9,211.0 461.3,214.8 C466.7,218.6 480.8,228.7 486.4,233.0 C492.1,237.4 490.8,237.2 495.1,241.0 C499.5,244.8 506.2,250.6 512.8,255.6 C519.4,260.7 526.3,265.8 534.7,271.4 C543.2,277.1 555.0,284.0 563.7,289.5 C572.5,295.0 582.6,301.5 587.4,304.5 C592.2,307.5 591.6,307.1 592.4,307.7" fill="none" stroke="#000" stroke-width="1.0" stroke-dasharray="6,3,1,3" />
<path d="M376.0,277.0 C376.4,275.2 375.0,271.9 378.2,266.5 C381.4,261.1 390.2,250.5 395.0,244.9 C399.8,239.3 403.8,237.7 407.0,232.9 C410.2,228.1 412.2,222.0 414.2,216.0 C416.2,210.0 417.7,200.9 419.0,196.8 C420.3,192.7 421.0,192.3 422.0,191.5 C423.0,190.7 422.4,190.6 425.0,192.0 C427.6,193.4 430.8,196.7 437.4,199.8 C444.0,202.9 455.6,207.2 464.7,210.8 C473.8,214.5 483.0,217.8 492.1,221.7 C501.2,225.6 510.3,230.1 519.4,234.0 C528.5,237.9 537.7,241.6 546.8,245.0 C555.9,248.4 566.6,252.2 574.1,254.5 C581.6,256.8 588.2,257.7 591.9,258.6 C595.5,259.5 595.3,259.8 596.0,260.0" fill="none" stroke="#000" stroke-width="1.1" stroke-dasharray="3,2.2" />
<path d="M405.0,277.0 C405.8,275.8 404.6,271.2 410.0,269.5 C415.4,267.8 428.3,267.6 437.4,266.8 C446.5,266.0 455.6,265.1 464.7,264.9 C473.8,264.7 483.0,264.9 492.1,265.5 C501.2,266.1 511.2,266.8 519.4,268.2 C527.6,269.6 537.0,272.2 541.3,273.7 C545.6,275.2 544.4,276.4 545.0,277.0" fill="none" stroke="#000" stroke-width="1.1" stroke-dasharray="6,3" />
<path d="M528.0,277.0 C528.8,275.3 529.9,270.8 533.0,266.8 C536.1,262.8 542.7,258.2 546.8,253.2 C550.9,248.2 554.5,242.3 557.7,236.8 C560.9,231.3 563.6,224.9 565.9,220.3 C568.2,215.7 569.8,214.9 571.4,209.4 C573.0,203.9 574.4,193.0 575.5,187.5 C576.6,182.0 577.4,178.5 578.2,176.5 C579.0,174.5 579.5,175.2 580.2,175.5 C580.9,175.8 581.6,176.8 582.3,178.5 C583.0,180.2 583.8,183.1 584.5,186.0 C585.2,188.9 585.7,192.0 586.4,196.0 C587.1,200.0 587.8,204.6 588.5,210.0 C589.2,215.4 589.8,221.1 590.5,228.6 C591.2,236.1 592.0,246.9 592.5,255.0 C593.0,263.1 593.3,273.3 593.5,277.0" fill="none" stroke="#000" stroke-width="1.1" stroke-dasharray="6,3" />
<path d="M396.3,151.7 C396.7,153.6 397.9,159.1 398.6,163.0 C399.4,166.9 400.1,170.0 400.8,175.0 C401.4,180.0 401.8,186.7 402.4,193.0 C402.9,199.3 403.4,206.3 404.0,213.0 C404.5,219.7 405.1,226.3 405.5,233.0 C406.0,239.7 406.4,245.3 406.8,253.0 C407.2,260.7 407.8,274.7 408.0,279.0" fill="none" stroke="#000" stroke-width="1.0" stroke-dasharray="5,3" />
<path d="M339.5,154.9 C339.7,156.1 340.1,160.0 340.4,162.3 C340.6,164.7 340.9,166.7 341.2,168.8 C341.5,170.9 342.0,172.9 342.4,175.1 C342.8,177.3 343.2,180.0 343.8,182.2 C344.3,184.5 345.0,187.1 345.6,188.6 C346.2,190.2 346.7,190.7 347.4,191.5 C348.0,192.3 348.5,192.7 349.4,193.2 C350.2,193.6 351.3,194.1 352.5,194.3 C353.6,194.6 354.9,194.5 356.3,194.5 C357.7,194.4 359.5,194.0 361.0,194.0 C362.4,194.0 364.1,194.3 365.2,194.5 C366.4,194.7 367.1,194.8 367.9,195.2 C368.7,195.6 369.4,196.1 370.0,196.8 C370.6,197.5 370.9,197.7 371.6,199.2 C372.3,200.7 373.3,203.4 374.2,206.0 C375.1,208.6 376.2,212.3 377.1,214.9 C378.0,217.5 378.9,219.8 379.6,221.5 C380.4,223.2 381.0,224.4 381.4,225.3 C381.9,226.2 382.2,226.7 382.6,226.7 C383.1,226.7 383.4,226.3 384.1,225.5 C384.8,224.7 385.8,223.4 387.0,221.8 C388.1,220.2 389.6,218.3 391.0,216.2 C392.4,214.1 393.8,211.4 395.1,209.0 C396.5,206.6 398.0,204.1 399.3,201.8 C400.6,199.6 401.7,197.7 402.9,195.5 C404.1,193.3 405.2,191.4 406.3,188.8 C407.4,186.2 408.3,183.3 409.3,180.0 C410.2,176.7 411.0,172.8 411.8,169.1 C412.6,165.4 413.2,161.3 413.8,158.0 C414.4,154.7 414.9,152.7 415.3,149.5 C415.8,146.3 416.1,142.2 416.5,139.0 C416.8,135.8 417.1,132.2 417.4,130.0 C417.8,127.8 418.1,126.2 418.4,126.0 C418.7,125.8 419.0,126.8 419.3,128.5 C419.7,130.2 420.1,133.0 420.6,136.0 C421.1,139.0 421.8,143.0 422.2,146.7 C422.6,150.4 422.8,154.1 423.1,158.0 C423.3,161.9 423.4,165.2 423.9,170.4 C424.4,175.6 425.0,183.1 425.9,189.4 C426.9,195.7 428.1,202.0 429.8,208.3 C431.4,214.6 433.7,221.4 436.0,227.3 C438.3,233.2 440.7,238.8 443.7,244.0 C446.6,249.2 450.4,254.1 453.7,258.2 C457.1,262.3 460.8,266.2 463.7,268.8 C466.7,271.4 468.9,272.5 471.4,274.0 C473.9,275.5 477.2,277.0 478.8,278.0 C480.4,279.0 480.6,279.7 480.9,280.0" fill="none" stroke="#000" stroke-width="1.1" />
<path d="M341.3,29.0 C341.5,30.2 341.9,33.4 342.4,36.0 C342.9,38.6 343.6,39.9 344.3,44.4 C345.0,48.9 345.9,56.6 346.6,63.0 C347.4,69.4 348.2,78.3 348.9,83.0 C349.5,87.7 349.7,88.9 350.3,91.0 C350.9,93.1 351.6,93.7 352.5,95.5 C353.3,97.3 354.2,99.9 355.3,101.6 C356.4,103.3 358.1,104.6 359.2,105.6 C360.2,106.7 361.0,107.2 361.9,107.9 C362.8,108.7 363.6,109.3 364.5,110.3 C365.3,111.3 366.2,112.2 367.2,113.7 C368.2,115.2 369.6,118.0 370.5,119.5 C371.4,120.9 371.7,121.1 372.5,122.6 C373.3,124.1 374.4,126.6 375.3,128.5 C376.2,130.4 377.0,132.4 377.8,134.2 C378.7,135.9 379.7,137.6 380.6,139.0 C381.5,140.4 382.3,141.8 383.1,142.9 C384.0,144.0 384.8,144.9 385.7,145.8 C386.6,146.7 387.5,147.7 388.5,148.5 C389.4,149.3 390.3,150.0 391.2,150.5 C392.1,151.0 393.0,151.6 393.7,151.6 C394.3,151.6 394.8,151.2 395.2,150.3 C395.7,149.3 396.0,148.3 396.3,145.9 C396.7,143.6 397.0,139.8 397.4,136.3 C397.7,132.8 398.0,128.4 398.3,125.0 C398.6,121.6 398.9,118.0 399.2,116.0 C399.4,114.0 399.7,113.0 399.9,113.0 C400.2,113.0 400.4,113.9 400.7,116.0 C400.9,118.1 401.3,122.2 401.6,125.8 C401.9,129.4 402.2,134.1 402.6,137.6 C402.9,141.2 403.2,143.8 403.6,147.1 C404.1,150.4 404.7,154.9 405.2,157.5 C405.8,160.1 406.3,161.5 406.9,162.8 C407.5,164.1 408.2,165.0 408.7,165.3 C409.3,165.6 409.7,165.3 410.3,164.5 C410.9,163.7 411.7,162.2 412.2,160.3 C412.8,158.4 413.2,156.1 413.6,153.3 C414.1,150.4 414.4,146.8 414.9,143.3 C415.4,139.8 416.0,134.9 416.5,132.2 C416.9,129.5 417.3,128.0 417.6,127.0 C418.0,126.0 418.1,126.1 418.4,126.2 C418.7,126.3 418.4,123.7 419.2,127.5 C420.1,131.3 422.5,141.5 423.7,149.2 C424.9,156.9 425.6,168.3 426.4,173.8 C427.1,179.3 425.9,179.6 428.2,182.0 C430.5,184.4 433.9,185.3 440.0,188.5 C446.1,191.7 456.0,196.8 464.7,201.2 C473.4,205.6 483.0,210.8 492.1,214.9 C501.2,219.0 510.8,222.6 519.4,225.8 C528.0,229.0 538.9,232.8 544.0,234.0 C549.1,235.2 547.7,233.9 550.0,233.0 C552.3,232.1 555.5,230.8 557.7,228.6 C559.9,226.4 561.2,223.2 563.0,220.0 C564.8,216.8 566.8,214.3 568.6,209.4 C570.5,204.5 572.8,195.2 574.1,190.3 C575.4,185.4 575.8,182.5 576.5,180.0 C577.2,177.5 577.5,175.9 578.2,175.2 C578.9,174.4 579.8,175.0 580.5,175.5 C581.2,176.0 581.6,176.4 582.3,178.0 C583.0,179.6 583.8,182.2 584.5,185.0 C585.2,187.8 585.7,191.2 586.4,195.0 C587.1,198.8 587.8,202.9 588.5,208.0 C589.2,213.1 589.9,219.6 590.5,225.8 C591.1,232.0 591.6,238.5 592.0,245.0 C592.4,251.5 592.8,261.7 593.0,265.0" fill="none" stroke="#000" stroke-width="1.2" />
</g>
<ellipse cx="343.6" cy="46.3" rx="3.4" ry="2.5" fill="#000"/>
<ellipse cx="344.2" cy="50.1" rx="3.4" ry="2.5" fill="#000"/>
<ellipse cx="345.1" cy="54.8" rx="3.4" ry="2.5" fill="#000"/>
<ellipse cx="345.7" cy="60.7" rx="3.4" ry="2.5" fill="#000"/>
<ellipse cx="346.3" cy="67.1" rx="3.4" ry="2.5" fill="#000"/>
<ellipse cx="347.8" cy="78.8" rx="3.4" ry="2.5" fill="#000"/>
<ellipse cx="349.5" cy="89.9" rx="3.4" ry="2.5" fill="#000"/>
<ellipse cx="353.1" cy="94.1" rx="3.4" ry="2.5" fill="#000"/>
<line x1="356.3" y1="103.7" x2="370.2" y2="103.7" stroke="#000" stroke-width="1"/>
<ellipse cx="362.3" cy="103.7" rx="3.4" ry="2.5" fill="#000"/>
<line x1="370.2" y1="118.6" x2="386.1" y2="118.6" stroke="#000" stroke-width="1"/>
<ellipse cx="378.0" cy="118.6" rx="3.4" ry="2.5" fill="#000"/>
<ellipse cx="389.7" cy="123.9" rx="3.4" ry="2.5" fill="#000"/>
<ellipse cx="396.1" cy="120.1" rx="3.4" ry="2.5" fill="#000"/>
<ellipse cx="400.0" cy="106.9" rx="3.4" ry="2.5" fill="#000"/>
<ellipse cx="404.9" cy="137.1" rx="3.4" ry="2.5" fill="#000"/>
<ellipse cx="411.0" cy="142.7" rx="3.4" ry="2.5" fill="#000"/>
<line x1="414.4" y1="127.4" x2="425.1" y2="127.4" stroke="#000" stroke-width="1"/>
<ellipse cx="419.6" cy="127.4" rx="3.4" ry="2.5" fill="#000"/>
<line x1="431.3" y1="161.5" x2="431.3" y2="176.6" stroke="#000" stroke-width="1"/>
<ellipse cx="431.3" cy="167.0" rx="3.4" ry="2.5" fill="#000"/>
<line x1="437.4" y1="168.4" x2="456.0" y2="168.4" stroke="#000" stroke-width="1"/>
<ellipse cx="446.4" cy="168.4" rx="3.4" ry="2.5" fill="#000"/>
<line x1="456.5" y1="194.6" x2="487.1" y2="194.6" stroke="#000" stroke-width="1"/>
<line x1="471.8" y1="187.0" x2="471.8" y2="209.4" stroke="#000" stroke-width="1"/>
<ellipse cx="471.8" cy="194.6" rx="3.4" ry="2.5" fill="#000"/>
<line x1="488.0" y1="205.3" x2="533.9" y2="205.3" stroke="#000" stroke-width="1"/>
<line x1="511.2" y1="199.8" x2="511.2" y2="214.9" stroke="#000" stroke-width="1"/>
<ellipse cx="511.2" cy="205.3" rx="3.4" ry="2.5" fill="#000"/>
<line x1="534.5" y1="224.5" x2="568.6" y2="224.5" stroke="#000" stroke-width="1"/>
<line x1="551.4" y1="214.9" x2="551.4" y2="245.0" stroke="#000" stroke-width="1"/>
<ellipse cx="551.4" cy="224.5" rx="3.4" ry="2.5" fill="#000"/>
<ellipse cx="573.3" cy="205.0" rx="3.4" ry="2.5" fill="#000"/>
<ellipse cx="579.0" cy="173.3" rx="3.4" ry="2.5" fill="#000"/>
<ellipse cx="581.8" cy="176.6" rx="3.4" ry="2.5" fill="#000"/>
<ellipse cx="585.1" cy="191.6" rx="3.4" ry="2.5" fill="#000"/>
<line x1="587.2" y1="205.0" x2="587.2" y2="236.8" stroke="#000" stroke-width="1"/>
<ellipse cx="587.2" cy="214.3" rx="3.4" ry="2.5" fill="#000"/>
<rect x="94.5" y="29" width="590" height="245" fill="none" stroke="#000" stroke-width="1.3"/>
<line x1="93.8" y1="28.9" x2="684.5" y2="28.9" stroke="#fff" stroke-width="2"/>
<line x1="93.8" y1="28.9" x2="684.5" y2="28.9" stroke="#666" stroke-width="1.8"/>
<line x1="335.5" y1="29" x2="335.5" y2="274" stroke="#000" stroke-width="1.3"/>
<line x1="594" y1="29" x2="594" y2="274" stroke="#333" stroke-width="1.6"/>
<line x1="684" y1="29" x2="684" y2="274" stroke="#555" stroke-width="1.2"/>
<path d="M94.5,35.7 h6 M94.5,47.7 h3 M94.5,75.4 h6 M94.5,87.4 h3 M94.5,115.1 h6 M94.5,127.1 h3 M94.5,154.8 h6 M94.5,166.8 h3 M94.5,194.5 h6 M94.5,206.5 h3 M94.5,234.2 h6 M94.5,246.2 h3 M94.5,273.9 h6 M335.5,35.7 h6 M335.5,47.7 h3 M335.5,75.4 h6 M335.5,87.4 h3 M335.5,115.1 h6 M335.5,127.1 h3 M335.5,154.8 h6 M335.5,166.8 h3 M335.5,194.5 h6 M335.5,206.5 h3 M335.5,234.2 h6 M335.5,246.2 h3 M335.5,273.9 h6 M97.6,274 v-6.5 M104.9,274 v-3.2 M112.2,274 v-3.2 M119.5,274 v-3.2 M126.8,274 v-3.2 M134.1,274 v-6.5 M141.4,274 v-3.2 M148.7,274 v-3.2 M156.0,274 v-3.2 M163.3,274 v-3.2 M170.6,274 v-6.5 M177.9,274 v-3.2 M185.2,274 v-3.2 M192.5,274 v-3.2 M199.8,274 v-3.2 M207.1,274 v-6.5 M214.4,274 v-3.2 M221.7,274 v-3.2 M229.0,274 v-3.2 M236.3,274 v-3.2 M243.6,274 v-6.5 M250.9,274 v-3.2 M258.2,274 v-3.2 M265.5,274 v-3.2 M272.8,274 v-3.2 M280.1,274 v-6.5 M287.4,274 v-3.2 M294.7,274 v-3.2 M302.0,274 v-3.2 M309.3,274 v-3.2 M316.6,274 v-6.5 M323.9,274 v-3.2 M331.2,274 v-3.2 M339.3,274 v-6.5 M347.1,274 v-3.2 M354.8,274 v-3.2 M362.6,274 v-3.2 M370.3,274 v-3.2 M378.1,274 v-6.5 M385.8,274 v-3.2 M393.6,274 v-3.2 M401.3,274 v-3.2 M409.1,274 v-3.2 M416.8,274 v-6.5 M424.6,274 v-3.2 M432.3,274 v-3.2 M440.1,274 v-3.2 M447.8,274 v-3.2 M455.6,274 v-6.5 M463.3,274 v-3.2 M471.1,274 v-3.2 M478.8,274 v-3.2 M486.6,274 v-3.2 M494.3,274 v-6.5 M502.1,274 v-3.2 M509.8,274 v-3.2 M517.5,274 v-3.2 M525.3,274 v-3.2 M533.0,274 v-6.5 M540.8,274 v-3.2 M548.5,274 v-3.2 M556.3,274 v-3.2 M564.0,274 v-3.2 M571.8,274 v-6.5 M579.5,274 v-3.2 M587.3,274 v-3.2" stroke="#000" stroke-width="1" fill="none"/>
<g font-family="Liberation Sans, sans-serif" font-size="13" fill="#000"><text x="97.6" y="285.3" text-anchor="middle">0</text><text x="134.1" y="285.3" text-anchor="middle">0.5</text><text x="170.6" y="285.3" text-anchor="middle">1</text><text x="207.1" y="285.3" text-anchor="middle">1.5</text><text x="243.6" y="285.3" text-anchor="middle">2</text><text x="280.1" y="285.3" text-anchor="middle">2.5</text><text x="316.6" y="285.3" text-anchor="middle">3</text></g>
<g font-family="Liberation Sans, sans-serif" font-size="11.8" fill="#000"><text x="339.3" y="284.6" text-anchor="middle">0</text><text x="378.1" y="284.6" text-anchor="middle">0.5</text><text x="416.8" y="284.6" text-anchor="middle">1</text><text x="455.6" y="284.6" text-anchor="middle">1.5</text><text x="494.3" y="284.6" text-anchor="middle">2</text><text x="533.0" y="284.6" text-anchor="middle">2.5</text><text x="571.8" y="284.6" text-anchor="middle">3</text></g>
<g font-family="Liberation Sans, sans-serif" font-size="13" fill="#000"><text x="91" y="40.8" text-anchor="end">1</text><text x="81.6" y="120.5" text-anchor="end">10</text><text x="81.2" y="114.7" font-size="8.6">−2</text><text x="81.6" y="199.9" text-anchor="end">10</text><text x="81.2" y="194.1" font-size="8.6">−4</text><text x="81.6" y="279.3" text-anchor="end">10</text><text x="81.2" y="273.5" font-size="8.6">−6</text></g>
<text font-family="Liberation Sans, sans-serif" font-size="18.6" x="162.2" y="301.5">M<tspan font-size="12.6" dy="4.3">ee</tspan><tspan dy="-4.3"> (GeV/</tspan><tspan font-style="italic">c</tspan><tspan font-size="12.6" dy="-6.5">2</tspan><tspan dy="6.5">)</tspan></text>
<text font-family="Liberation Sans, sans-serif" font-size="17.1" x="416.4" y="301">M<tspan font-size="12" dy="4">ee</tspan><tspan dy="-4"> (GeV/</tspan><tspan font-style="italic">c</tspan><tspan font-size="11.7" dy="-6">2</tspan><tspan dy="6">)</tspan></text>
<text font-family="Liberation Sans, sans-serif" font-size="21" textLength="149" lengthAdjust="spacingAndGlyphs" transform="translate(64.8,176.3) rotate(-90)">dN/dM (<tspan font-style="italic">c</tspan><tspan font-size="14" dy="-7.5">2</tspan><tspan dy="7.5">/GeV)</tspan></text>
<g font-family="Liberation Sans, sans-serif" font-weight="bold"><path d="M190.6,66.5 l1.4,-1.2 l2.0,10.2 l2.6,-19.3 h27.4" fill="none" stroke="#000" stroke-width="1.3"/><text x="198.8" y="70.6" font-size="16">s</text><text x="207.2" y="75.6" font-size="11.5">NN</text><text x="228.0" y="70.9" font-size="17">= 54.4 GeV</text></g>
<g font-family="Liberation Sans, sans-serif" font-weight="bold"><path d="M465.8,66.5 l1.4,-1.2 l2.0,10.2 l2.6,-19.3 h27.4" fill="none" stroke="#000" stroke-width="1.3"/><text x="474.0" y="70.6" font-size="16">s</text><text x="482.4" y="75.6" font-size="11.5">NN</text><text x="503.2" y="70.9" font-size="17">= 27 GeV</text></g>
<line x1="599" y1="47.6" x2="612.6" y2="47.6" stroke="#000" stroke-width="1"/><circle cx="605.7" cy="47.6" r="2.7" fill="#000"/>
<line x1="599" y1="84.2" x2="613.3" y2="84.2" stroke="#666" stroke-width="1.4"/>
<rect x="599" y="98.8" width="15" height="11.4" fill="url(#hH)"/>
<line x1="599" y1="104.5" x2="613.5" y2="104.5" stroke="#444" stroke-width="1" stroke-dasharray="3,1"/>
<line x1="599" y1="124.8" x2="613.5" y2="124.8" stroke="#000" stroke-width="1" stroke-dasharray="1,2"/>
<rect x="599" y="138.5" width="15" height="14.0" fill="url(#hS)"/>
<line x1="599" y1="145.5" x2="613.5" y2="145.5" stroke="#000" stroke-width="1" stroke-dasharray="5,2,1,2"/>
<line x1="599" y1="166.4" x2="613.5" y2="166.4" stroke="#000" stroke-width="1" stroke-dasharray="4,2,1,2,1,2"/>
<rect x="599" y="179.5" width="15" height="14.0" fill="url(#hB)"/>
<line x1="599" y1="186.5" x2="613.5" y2="186.5" stroke="#000" stroke-width="1"/>
<rect x="599" y="200.0" width="15" height="14.0" fill="url(#hV)"/>
<line x1="599" y1="207.0" x2="613.5" y2="207.0" stroke="#000" stroke-width="1" stroke-dasharray="6,3"/>
<line x1="599" y1="228.5" x2="613.5" y2="228.5" stroke="#000" stroke-width="1" stroke-dasharray="5,3,1,3"/>
<line x1="599" y1="249.2" x2="613.5" y2="249.2" stroke="#000" stroke-width="1" stroke-dasharray="3,2.2"/>
<text font-family="Liberation Sans, sans-serif" font-weight="bold" font-size="10.7" x="615.9" y="51.3">STAR Au+Au</text>
<text font-family="Liberation Sans, sans-serif" font-weight="bold" font-size="10.7" x="626.0" y="66.0">(0-80%)</text>
<text font-family="Liberation Sans, sans-serif" font-weight="bold" font-size="10.7" font-size="10.4" x="616.6" y="88.1">Cocktail Sum</text>
<text font-family="Liberation Serif, serif" font-weight="normal" font-size="12" x="616.3" y="109.2">π</text><text font-family="Liberation Sans, sans-serif" font-size="7.5" x="622.2" y="104.2">0</text>
<path d="M626.4,106.2 H635.7 M633.1,104.1 L635.7,106.2 L633.1,108.3" fill="none" stroke="#000" stroke-width="0.85"/>
<text font-family="Liberation Serif, serif" font-weight="normal" font-size="12" x="635.9" y="109.2">γ</text><text font-family="Liberation Sans, sans-serif" font-weight="bold" font-size="10.7" x="641.9" y="109.2">ee&amp;ee</text>
<text font-family="Liberation Serif, serif" font-weight="normal" font-size="12" x="616.3" y="129.8">η</text>
<path d="M622.0,127.0 H631.9 M629.3,124.9 L631.9,127.0 L629.3,129.1" fill="none" stroke="#000" stroke-width="0.85"/>
<text font-family="Liberation Serif, serif" font-weight="normal" font-size="12" x="632.1" y="129.8">γ</text><text font-family="Liberation Sans, sans-serif" font-weight="bold" font-size="10.7" x="638.1" y="129.8">ee</text>
<text font-family="Liberation Serif, serif" font-weight="normal" font-size="12" font-size="11" x="616.2" y="149.7">ω</text>
<path d="M623.7,147.0 H633.5 M630.9,144.9 L633.5,147.0 L630.9,149.1" fill="none" stroke="#000" stroke-width="0.85"/>
<text font-family="Liberation Sans, sans-serif" font-weight="bold" font-size="10.7" x="634.2" y="149.7">ee&amp;</text><text font-family="Liberation Serif, serif" font-weight="normal" font-size="12" x="652.9" y="149.7">π</text><text font-family="Liberation Sans, sans-serif" font-size="7.5" x="658.8" y="144.6">0</text><text font-family="Liberation Sans, sans-serif" font-weight="bold" font-size="10.7" x="662.7" y="149.7">ee</text>
<text font-family="Liberation Serif, serif" font-weight="normal" font-size="12" x="616.3" y="170.5">η'</text>
<path d="M624.2,167.8 H634.1 M631.5,165.7 L634.1,167.8 L631.5,169.9" fill="none" stroke="#000" stroke-width="0.85"/>
<text font-family="Liberation Serif, serif" font-weight="normal" font-size="12" x="634.3" y="170.5">γ</text><text font-family="Liberation Sans, sans-serif" font-weight="bold" font-size="10.7" x="640.3" y="170.5">ee</text>
<text font-family="Liberation Serif, serif" font-weight="normal" font-size="12" x="615.8" y="190.7">φ</text>
<path d="M621.5,187.6 H631.4 M628.8,185.5 L631.4,187.6 L628.8,189.7" fill="none" stroke="#000" stroke-width="0.85"/>
<text font-family="Liberation Sans, sans-serif" font-weight="bold" font-size="10.7" x="632.0" y="190.7">ee&amp;</text><text font-family="Liberation Serif, serif" font-weight="normal" font-size="12" x="651.1" y="190.7">η</text><text font-family="Liberation Sans, sans-serif" font-weight="bold" font-size="10.7" x="656.6" y="190.7">ee</text>
<text font-family="Liberation Sans, sans-serif" font-weight="bold" font-size="10.7" x="616.1" y="211.1">J/</text><text font-family="Liberation Serif, serif" font-weight="normal" font-size="12" x="625.2" y="211.1">ψ</text>
<path d="M632.4,208.4 H642.3 M639.7,206.3 L642.3,208.4 L639.7,210.5" fill="none" stroke="#000" stroke-width="0.85"/>
<text font-family="Liberation Serif, serif" font-weight="normal" font-size="12" x="642.0" y="211.1">γ</text><text font-family="Liberation Sans, sans-serif" font-weight="bold" font-size="10.7" x="648.5" y="211.1">ee&amp;ee</text>
<text font-family="Liberation Sans, sans-serif" font-weight="bold" font-size="10.7" x="616.3" y="231.4">cc</text><line x1="622.6" y1="222.6" x2="627.6" y2="222.6" stroke="#000" stroke-width="1.2"/>
<path d="M628.0,229.2 H637.9 M635.3,227.1 L637.9,229.2 L635.3,231.3" fill="none" stroke="#000" stroke-width="0.85"/>
<text font-family="Liberation Sans, sans-serif" font-weight="bold" font-size="10.7" x="638.1" y="231.4">ee</text>
<text font-family="Liberation Sans, sans-serif" font-weight="bold" font-size="10.7" x="616.1" y="251.9">DY</text>
<path d="M630.8,248.9 H640.7 M638.1,246.8 L640.7,248.9 L638.1,251.0" fill="none" stroke="#000" stroke-width="0.85"/>
<text font-family="Liberation Sans, sans-serif" font-weight="bold" font-size="10.7" x="641.4" y="251.9">ee</text>
<g clip-path="url(#cB)">
<path d="M135.6,622.0 C135.6,621.4 135.2,621.6 135.6,618.1 C136.0,614.6 136.9,606.1 137.8,601.1 C138.7,596.1 139.8,592.6 141.0,588.3 C142.2,584.0 143.8,579.4 145.2,575.5 C146.6,571.6 148.1,568.1 149.5,564.9 C150.9,561.7 152.1,559.3 153.5,556.5 C154.9,553.7 156.4,551.3 158.2,548.1 C160.0,544.9 162.1,540.6 164.3,537.1 C166.5,533.6 169.2,530.8 171.6,527.4 C174.0,524.0 176.3,520.4 178.9,516.5 C181.5,512.6 184.8,507.9 187.4,504.3 C190.0,500.7 192.3,498.7 194.7,494.6 C197.1,490.6 199.6,484.6 202.0,480.0 C204.4,475.4 206.7,471.1 209.0,467.0 C211.3,462.9 213.7,458.9 216.0,455.4 C218.3,451.9 220.8,448.4 223.0,446.0 C225.2,443.6 227.3,442.0 228.9,440.8 C230.5,439.6 231.2,439.0 232.4,439.0 C233.6,439.0 234.4,439.6 235.9,440.8 C237.4,442.0 239.4,443.6 241.7,446.0 C244.0,448.4 246.8,452.1 249.9,455.4 C253.0,458.7 257.1,463.2 260.4,465.9 C263.7,468.6 267.3,470.3 269.7,471.7 C272.1,473.1 273.4,473.1 275.0,474.0 C276.6,474.9 276.6,475.8 279.3,477.4 C282.1,479.0 287.4,481.7 291.5,483.5 C295.6,485.3 299.6,487.0 303.6,488.4 C307.7,489.8 312.2,490.5 315.8,492.0 C319.4,493.5 321.8,496.0 325.0,497.2 C328.2,498.4 330.0,498.2 335.0,499.3 C340.0,500.4 347.4,502.4 355.0,504.0 C362.6,505.6 376.2,508.1 380.5,508.9" fill="none" stroke="#55cc44" stroke-width="2.0" stroke-dasharray="6,3,1.5,3" />
<path d="M137.2,622.0 C137.2,621.5 136.9,621.5 137.2,619.1 C137.5,616.7 138.2,611.5 138.8,607.4 C139.4,603.3 140.1,598.6 141.0,594.7 C141.9,590.8 142.9,587.9 144.1,584.0 C145.3,580.1 147.0,574.8 148.4,571.3 C149.8,567.8 151.3,565.3 152.7,562.8 C154.0,560.2 155.0,558.8 156.5,556.0 C158.0,553.2 159.8,550.0 161.9,546.3 C164.0,542.5 166.8,537.5 169.2,533.5 C171.6,529.5 173.9,526.2 176.5,522.6 C179.1,519.0 182.2,515.4 185.0,511.6 C187.8,507.9 191.4,503.1 193.5,500.1 C195.6,497.2 195.5,497.1 197.3,493.9 C199.1,490.7 202.0,485.4 204.3,481.1 C206.7,476.8 209.1,472.3 211.4,468.2 C213.8,464.1 216.3,459.7 218.4,456.5 C220.5,453.3 222.3,450.8 224.2,448.9 C226.1,447.0 228.2,445.5 230.0,444.9 C231.8,444.3 233.1,444.5 234.7,445.1 C236.3,445.7 237.4,446.7 239.4,448.4 C241.4,450.1 243.7,452.7 246.4,455.4 C249.1,458.1 252.6,461.8 255.7,464.7 C258.8,467.6 262.4,470.6 265.1,472.9 C267.8,475.2 269.7,477.1 272.1,478.7 C274.5,480.3 276.1,480.9 279.3,482.3 C282.5,483.7 287.4,485.1 291.5,487.1 C295.6,489.1 299.6,492.4 303.6,494.4 C307.7,496.4 312.2,498.0 315.8,499.3 C319.4,500.6 321.8,501.3 325.0,502.3 C328.2,503.3 330.0,504.1 335.0,505.4 C340.0,506.7 347.4,508.4 355.0,510.0 C362.6,511.6 376.2,513.9 380.5,514.7" fill="none" stroke="#0000ff" stroke-width="2.5" stroke-dasharray="6,3,1.5,3" />
<line x1="124.1" y1="416.6" x2="124.1" y2="427.6" stroke="#ff00ff" stroke-width="1.4"/>
<path d="M120.8,416.3 h6.6 l-3.3,6 z" fill="#ff00ff"/>
<line x1="139.9" y1="420.2" x2="139.9" y2="429.2" stroke="#ff00ff" stroke-width="1.4"/>
<path d="M136.6,419.9 h6.6 l-3.3,6 z" fill="#ff00ff"/>
<line x1="156.3" y1="425.1" x2="156.3" y2="437.1" stroke="#ff00ff" stroke-width="1.4"/>
<path d="M153.0,424.8 h6.6 l-3.3,6 z" fill="#ff00ff"/>
<line x1="170.0" y1="432.6" x2="170.0" y2="439.6" stroke="#ff00ff" stroke-width="1.4"/>
<path d="M166.7,432.3 h6.6 l-3.3,6 z" fill="#ff00ff"/>
<line x1="172.0" y1="432.9" x2="172.0" y2="442.9" stroke="#ff00ff" stroke-width="1.4"/>
<path d="M168.7,432.6 h6.6 l-3.3,6 z" fill="#ff00ff"/>
<line x1="174.0" y1="433.1" x2="174.0" y2="441.1" stroke="#ff00ff" stroke-width="1.4"/>
<path d="M170.7,432.8 h6.6 l-3.3,6 z" fill="#ff00ff"/>
<line x1="176.5" y1="433.4" x2="176.5" y2="440.4" stroke="#ff00ff" stroke-width="1.4"/>
<path d="M173.2,433.1 h6.6 l-3.3,6 z" fill="#ff00ff"/>
<line x1="182.0" y1="434.4" x2="182.0" y2="443.4" stroke="#ff00ff" stroke-width="1.4"/>
<path d="M178.7,434.1 h6.6 l-3.3,6 z" fill="#ff00ff"/>
<line x1="184.0" y1="434.8" x2="184.0" y2="445.8" stroke="#ff00ff" stroke-width="1.4"/>
<path d="M180.7,434.5 h6.6 l-3.3,6 z" fill="#ff00ff"/>
<line x1="186.0" y1="435.2" x2="186.0" y2="448.2" stroke="#ff00ff" stroke-width="1.4"/>
<path d="M182.7,434.9 h6.6 l-3.3,6 z" fill="#ff00ff"/>
<line x1="188.0" y1="435.5" x2="188.0" y2="456.5" stroke="#ff00ff" stroke-width="1.4"/>
<path d="M184.7,435.2 h6.6 l-3.3,6 z" fill="#ff00ff"/>
<line x1="190.0" y1="435.8" x2="190.0" y2="447.8" stroke="#ff00ff" stroke-width="1.4"/>
<path d="M186.7,435.5 h6.6 l-3.3,6 z" fill="#ff00ff"/>
<line x1="192.0" y1="436.1" x2="192.0" y2="450.1" stroke="#ff00ff" stroke-width="1.4"/>
<path d="M188.7,435.8 h6.6 l-3.3,6 z" fill="#ff00ff"/>
<line x1="194.0" y1="436.4" x2="194.0" y2="447.4" stroke="#ff00ff" stroke-width="1.4"/>
<path d="M190.7,436.1 h6.6 l-3.3,6 z" fill="#ff00ff"/>
<line x1="196.0" y1="436.6" x2="196.0" y2="449.6" stroke="#ff00ff" stroke-width="1.4"/>
<path d="M192.7,436.3 h6.6 l-3.3,6 z" fill="#ff00ff"/>
<line x1="198.0" y1="436.6" x2="198.0" y2="446.6" stroke="#ff00ff" stroke-width="1.4"/>
<path d="M194.7,436.3 h6.6 l-3.3,6 z" fill="#ff00ff"/>
<line x1="200.0" y1="436.6" x2="200.0" y2="448.6" stroke="#ff00ff" stroke-width="1.4"/>
<path d="M196.7,436.3 h6.6 l-3.3,6 z" fill="#ff00ff"/>
<line x1="202.0" y1="436.6" x2="202.0" y2="445.6" stroke="#ff00ff" stroke-width="1.4"/>
<path d="M198.7,436.3 h6.6 l-3.3,6 z" fill="#ff00ff"/>
<line x1="204.0" y1="436.6" x2="204.0" y2="444.6" stroke="#ff00ff" stroke-width="1.4"/>
<path d="M200.7,436.3 h6.6 l-3.3,6 z" fill="#ff00ff"/>
<line x1="206.0" y1="436.6" x2="206.0" y2="443.6" stroke="#ff00ff" stroke-width="1.4"/>
<path d="M202.7,436.3 h6.6 l-3.3,6 z" fill="#ff00ff"/>
<line x1="209.0" y1="436.0" x2="209.0" y2="443.0" stroke="#ff00ff" stroke-width="1.4"/>
<path d="M205.7,435.7 h6.6 l-3.3,6 z" fill="#ff00ff"/>
<line x1="212.0" y1="435.3" x2="212.0" y2="444.3" stroke="#ff00ff" stroke-width="1.4"/>
<path d="M208.7,435.0 h6.6 l-3.3,6 z" fill="#ff00ff"/>
<line x1="214.0" y1="434.8" x2="214.0" y2="445.8" stroke="#ff00ff" stroke-width="1.4"/>
<path d="M210.7,434.5 h6.6 l-3.3,6 z" fill="#ff00ff"/>
<line x1="216.0" y1="434.3" x2="216.0" y2="442.3" stroke="#ff00ff" stroke-width="1.4"/>
<path d="M212.7,434.0 h6.6 l-3.3,6 z" fill="#ff00ff"/>
<line x1="218.0" y1="433.9" x2="218.0" y2="440.9" stroke="#ff00ff" stroke-width="1.4"/>
<path d="M214.7,433.6 h6.6 l-3.3,6 z" fill="#ff00ff"/>
<line x1="221.0" y1="433.2" x2="221.0" y2="440.2" stroke="#ff00ff" stroke-width="1.4"/>
<path d="M217.7,432.9 h6.6 l-3.3,6 z" fill="#ff00ff"/>
<line x1="224.0" y1="432.5" x2="224.0" y2="439.5" stroke="#ff00ff" stroke-width="1.4"/>
<path d="M220.7,432.2 h6.6 l-3.3,6 z" fill="#ff00ff"/>
<line x1="227.0" y1="432.5" x2="227.0" y2="439.5" stroke="#ff00ff" stroke-width="1.4"/>
<path d="M223.7,432.2 h6.6 l-3.3,6 z" fill="#ff00ff"/>
<line x1="230.0" y1="432.5" x2="230.0" y2="439.5" stroke="#ff00ff" stroke-width="1.4"/>
<path d="M226.7,432.2 h6.6 l-3.3,6 z" fill="#ff00ff"/>
<line x1="233.0" y1="433.7" x2="233.0" y2="440.7" stroke="#ff00ff" stroke-width="1.4"/>
<path d="M229.7,433.4 h6.6 l-3.3,6 z" fill="#ff00ff"/>
<line x1="239.0" y1="436.9" x2="239.0" y2="443.9" stroke="#ff00ff" stroke-width="1.4"/>
<path d="M235.7,436.6 h6.6 l-3.3,6 z" fill="#ff00ff"/>
<line x1="245.0" y1="444.0" x2="245.0" y2="451.0" stroke="#ff00ff" stroke-width="1.4"/>
<path d="M241.7,443.7 h6.6 l-3.3,6 z" fill="#ff00ff"/>
<line x1="252.0" y1="449.6" x2="252.0" y2="456.6" stroke="#ff00ff" stroke-width="1.4"/>
<path d="M248.7,449.3 h6.6 l-3.3,6 z" fill="#ff00ff"/>
<line x1="259.0" y1="454.0" x2="259.0" y2="461.0" stroke="#ff00ff" stroke-width="1.4"/>
<path d="M255.7,453.7 h6.6 l-3.3,6 z" fill="#ff00ff"/>
<line x1="266.0" y1="459.1" x2="266.0" y2="466.1" stroke="#ff00ff" stroke-width="1.4"/>
<path d="M262.7,458.8 h6.6 l-3.3,6 z" fill="#ff00ff"/>
<line x1="272.0" y1="463.7" x2="272.0" y2="470.7" stroke="#ff00ff" stroke-width="1.4"/>
<path d="M268.7,463.4 h6.6 l-3.3,6 z" fill="#ff00ff"/>
<line x1="278.1" y1="463.5" x2="278.1" y2="480.5" stroke="#ff00ff" stroke-width="1.4"/>
<path d="M274.8,463.2 h6.6 l-3.3,6 z" fill="#ff00ff"/>
<line x1="283.0" y1="465.5" x2="283.0" y2="478.5" stroke="#ff00ff" stroke-width="1.4"/>
<path d="M279.7,465.2 h6.6 l-3.3,6 z" fill="#ff00ff"/>
<line x1="290.3" y1="465.9" x2="290.3" y2="476.9" stroke="#ff00ff" stroke-width="1.4"/>
<path d="M287.0,465.6 h6.6 l-3.3,6 z" fill="#ff00ff"/>
<line x1="295.1" y1="470.2" x2="295.1" y2="479.2" stroke="#ff00ff" stroke-width="1.4"/>
<path d="M291.8,469.9 h6.6 l-3.3,6 z" fill="#ff00ff"/>
<line x1="301.2" y1="475.0" x2="301.2" y2="484.0" stroke="#ff00ff" stroke-width="1.4"/>
<path d="M297.9,474.7 h6.6 l-3.3,6 z" fill="#ff00ff"/>
<line x1="306.0" y1="478.5" x2="306.0" y2="486.5" stroke="#ff00ff" stroke-width="1.4"/>
<path d="M302.7,478.2 h6.6 l-3.3,6 z" fill="#ff00ff"/>
<line x1="312.0" y1="482.5" x2="312.0" y2="490.5" stroke="#ff00ff" stroke-width="1.4"/>
<path d="M308.7,482.2 h6.6 l-3.3,6 z" fill="#ff00ff"/>
<line x1="319.0" y1="485.5" x2="319.0" y2="494.5" stroke="#ff00ff" stroke-width="1.4"/>
<path d="M315.7,485.2 h6.6 l-3.3,6 z" fill="#ff00ff"/>
<line x1="325.5" y1="489.0" x2="325.5" y2="498.0" stroke="#ff00ff" stroke-width="1.4"/>
<path d="M322.2,488.7 h6.6 l-3.3,6 z" fill="#ff00ff"/>
<line x1="331.6" y1="491.4" x2="331.6" y2="500.4" stroke="#ff00ff" stroke-width="1.4"/>
<path d="M328.3,491.1 h6.6 l-3.3,6 z" fill="#ff00ff"/>
<line x1="327.2" y1="491.3" x2="327.2" y2="499.3" stroke="#ff00ff" stroke-width="1.4"/>
<path d="M323.9,491.0 h6.6 l-3.3,6 z" fill="#ff00ff"/>
<line x1="333.8" y1="499.3" x2="333.8" y2="509.3" stroke="#ff00ff" stroke-width="1.4"/>
<path d="M330.5,499.0 h6.6 l-3.3,6 z" fill="#ff00ff"/>
<line x1="340.3" y1="498.6" x2="340.3" y2="507.6" stroke="#ff00ff" stroke-width="1.4"/>
<path d="M337.0,498.3 h6.6 l-3.3,6 z" fill="#ff00ff"/>
<line x1="343.2" y1="497.9" x2="343.2" y2="505.9" stroke="#ff00ff" stroke-width="1.4"/>
<path d="M339.9,497.6 h6.6 l-3.3,6 z" fill="#ff00ff"/>
<line x1="354.9" y1="508.1" x2="354.9" y2="517.1" stroke="#ff00ff" stroke-width="1.4"/>
<path d="M351.6,507.8 h6.6 l-3.3,6 z" fill="#ff00ff"/>
<path d="M380.1,515.1 h6.6 l-3.3,6 z" fill="#ff00ff"/>
<path d="M379.5,515.9 h6.6 l-3.3,6 z" fill="#ff00ff"/>
<path d="M408.9,533.4 h6.6 l-3.3,6 z" fill="#ff00ff"/>
<path d="M437.0,533.9 h6.6 l-3.3,6 z" fill="#ff00ff"/>
<line x1="469.9" y1="552.9" x2="469.9" y2="561.9" stroke="#ff00ff" stroke-width="1.4"/>
<path d="M466.6,552.6 h6.6 l-3.3,6 z" fill="#ff00ff"/>
<path d="M495.1,552.1 h6.6 l-3.3,6 z" fill="#ff00ff"/>
<path d="M523.9,559.6 h6.6 l-3.3,6 z" fill="#ff00ff"/>
<line x1="555.2" y1="579.1" x2="555.2" y2="590.1" stroke="#ff00ff" stroke-width="1.4"/>
<path d="M551.9,578.8 h6.6 l-3.3,6 z" fill="#ff00ff"/>
<path d="M581.0,572.9 h6.6 l-3.3,6 z" fill="#ff00ff"/>
<path d="M133.2,428.2 C133.6,428.2 132.6,428.1 135.4,428.5 C138.2,428.9 145.1,429.8 150.0,430.5 C154.9,431.2 160.6,431.9 165.0,432.5 C169.4,433.1 173.0,433.4 176.3,433.9 C179.6,434.4 181.9,434.9 185.0,435.4 C188.1,435.9 191.4,436.6 195.0,436.9 C198.6,437.1 203.9,437.2 206.7,436.9 C209.5,436.6 210.1,435.9 212.0,435.0 C213.9,434.1 216.2,432.3 218.4,431.4 C220.6,430.5 223.1,429.4 225.4,429.7 C227.7,430.0 230.5,431.7 232.4,433.2 C234.3,434.7 235.6,436.6 237.0,438.5 C238.4,440.4 239.5,442.6 241.0,444.5 C242.5,446.4 244.3,448.4 246.0,449.8 C247.7,451.2 248.6,451.3 251.0,453.0 C253.4,454.7 257.3,457.7 260.4,460.0 C263.5,462.3 267.3,465.3 269.7,467.0 C272.1,468.7 272.4,468.5 275.0,470.0 C277.6,471.5 281.2,473.9 285.4,476.2 C289.6,478.5 294.3,481.5 300.0,484.0 C305.7,486.5 316.2,490.2 319.5,491.4" fill="none" stroke="#000" stroke-width="2.2" />
<path d="M133.2,427.0 C133.6,427.1 132.6,427.0 135.4,427.4 C138.2,427.8 145.1,428.8 150.0,429.5 C154.9,430.2 160.6,430.9 165.0,431.5 C169.4,432.1 173.0,432.4 176.3,432.9 C179.6,433.4 181.9,434.0 185.0,434.5 C188.1,435.0 191.4,435.8 195.0,436.1 C198.6,436.4 203.2,436.5 206.7,436.1 C210.2,435.7 213.1,434.5 216.0,433.8 C218.9,433.1 221.9,432.3 224.2,432.0 C226.5,431.7 228.1,431.6 230.0,432.0 C231.9,432.4 234.3,433.3 235.9,434.3 C237.5,435.3 238.1,436.2 239.4,437.8 C240.8,439.4 242.1,441.8 244.0,443.7 C245.9,445.6 248.3,447.6 251.0,449.5 C253.7,451.4 257.3,453.2 260.4,455.4 C263.5,457.5 266.5,460.0 269.7,462.4 C272.9,464.8 275.7,467.3 279.3,470.0 C282.9,472.7 287.4,476.2 291.5,478.6 C295.6,481.1 298.8,482.4 303.6,484.7 C308.4,487.0 317.7,491.3 320.5,492.6" fill="none" stroke="#ff0000" stroke-width="3.0" />
<line x1="318" y1="483.8" x2="665.8" y2="575.5" stroke="#ff0000" stroke-width="2.2" stroke-dasharray="4.5,3.5"/>
<line x1="320" y1="487.5" x2="665.8" y2="584.3" stroke="#000" stroke-width="2.2" stroke-dasharray="4.5,3.5"/>
<rect x="121.7" y="412.0" width="8.9" height="52.3" fill="none" stroke="#ff0000" stroke-width="1.1"/>
<rect x="147.2" y="419.3" width="8.3" height="34.9" fill="none" stroke="#ff0000" stroke-width="1.1"/>
<rect x="178.0" y="426.3" width="8.5" height="16.7" fill="none" stroke="#ff0000" stroke-width="1.1"/>
<rect x="203.2" y="427.5" width="8.5" height="17.0" fill="none" stroke="#ff0000" stroke-width="1.1"/>
<rect x="218.8" y="426.6" width="8.8" height="16.1" fill="none" stroke="#ff0000" stroke-width="1.1"/>
<rect x="229.4" y="426.6" width="8.5" height="13.7" fill="none" stroke="#ff0000" stroke-width="1.1"/>
<rect x="238.5" y="434.2" width="7.9" height="14.6" fill="none" stroke="#ff0000" stroke-width="1.1"/>
<rect x="248.2" y="440.9" width="8.5" height="11.5" fill="none" stroke="#ff0000" stroke-width="1.1"/>
<rect x="258.0" y="448.2" width="8.5" height="7.3" fill="none" stroke="#ff0000" stroke-width="1.1"/>
<rect x="279.3" y="468.3" width="8.5" height="12.8" fill="none" stroke="#ff0000" stroke-width="1.1"/>
<rect x="305.5" y="473.2" width="9.1" height="9.1" fill="none" stroke="#ff0000" stroke-width="1.1"/>
<rect x="336.7" y="476.8" width="8.0" height="17.5" fill="none" stroke="#ff0000" stroke-width="1.1"/>
<rect x="377.3" y="493.3" width="8.3" height="19.0" fill="none" stroke="#ff0000" stroke-width="1.1"/>
<rect x="479.7" y="529.7" width="8.2" height="36.2" fill="none" stroke="#ff0000" stroke-width="1.1"/>
<rect x="602.7" y="520.8" width="7.9" height="15.3" fill="none" stroke="#ff0000" stroke-width="1.1"/>
<rect x="658.5" y="534.4" width="8.8" height="18.2" fill="none" stroke="#ff0000" stroke-width="1.1"/>
<rect x="132.0" y="420.6" width="8.5" height="54.9" fill="none" stroke="#000" stroke-width="1.1"/>
<rect x="172.8" y="431.1" width="8.8" height="10.4" fill="none" stroke="#000" stroke-width="1.1"/>
<rect x="204.5" y="431.1" width="6.6" height="6.7" fill="none" stroke="#000" stroke-width="1.1"/>
<rect x="219.0" y="427.5" width="8.0" height="5.5" fill="none" stroke="#000" stroke-width="1.1"/>
<rect x="352.0" y="486.0" width="8.0" height="5.4" fill="none" stroke="#000" stroke-width="1.1"/>
<rect x="418.1" y="521.5" width="8.2" height="10.5" fill="none" stroke="#000" stroke-width="1.1"/>
<rect x="520.9" y="530.9" width="7.9" height="6.5" fill="none" stroke="#000" stroke-width="1.1"/>
<rect x="627.9" y="562.4" width="8.3" height="11.0" fill="none" stroke="#000" stroke-width="1.1"/>
<line x1="116.2" y1="424.5" x2="133.2" y2="424.5" stroke="#ff0000" stroke-width="1.1"/>
<rect x="123.0" y="421.5" width="6" height="6" fill="#ff0000"/>
<line x1="141.0" y1="429.0" x2="162.0" y2="429.0" stroke="#ff0000" stroke-width="1.1"/>
<line x1="151.4" y1="422.0" x2="151.4" y2="443.3" stroke="#ff0000" stroke-width="1.1"/>
<rect x="148.4" y="426.0" width="6" height="6" fill="#ff0000"/>
<line x1="172.0" y1="433.0" x2="192.0" y2="433.0" stroke="#ff0000" stroke-width="1.1"/>
<rect x="179.0" y="430.0" width="6" height="6" fill="#ff0000"/>
<rect x="204.5" y="431.5" width="6" height="6" fill="#ff0000"/>
<rect x="220.0" y="428.0" width="6" height="6" fill="#ff0000"/>
<rect x="230.6" y="429.5" width="6" height="6" fill="#ff0000"/>
<rect x="239.5" y="436.0" width="6" height="6" fill="#ff0000"/>
<rect x="249.0" y="442.0" width="6" height="6" fill="#ff0000"/>
<rect x="259.0" y="448.0" width="6" height="6" fill="#ff0000"/>
<line x1="267.2" y1="475.0" x2="300.0" y2="475.0" stroke="#ff0000" stroke-width="1.1"/>
<rect x="280.5" y="472.0" width="6" height="6" fill="#ff0000"/>
<line x1="303.6" y1="479.8" x2="319.4" y2="479.8" stroke="#ff0000" stroke-width="1.1"/>
<rect x="307.3" y="476.8" width="6" height="6" fill="#ff0000"/>
<line x1="325.0" y1="483.4" x2="360.8" y2="483.4" stroke="#ff0000" stroke-width="1.1"/>
<rect x="337.8" y="480.4" width="6" height="6" fill="#ff0000"/>
<line x1="361.5" y1="500.9" x2="401.6" y2="500.9" stroke="#ff0000" stroke-width="1.1"/>
<rect x="378.6" y="497.9" width="6" height="6" fill="#ff0000"/>
<line x1="402.2" y1="540.2" x2="563.9" y2="540.2" stroke="#ff0000" stroke-width="1.1"/>
<line x1="484.0" y1="527.4" x2="484.0" y2="622.0" stroke="#ff0000" stroke-width="1.1"/>
<rect x="481.0" y="537.2" width="6" height="6" fill="#ff0000"/>
<line x1="565.5" y1="526.7" x2="647.8" y2="526.7" stroke="#ff0000" stroke-width="1.1"/>
<rect x="603.5" y="523.7" width="6" height="6" fill="#ff0000"/>
<line x1="647.8" y1="541.2" x2="678.9" y2="541.2" stroke="#ff0000" stroke-width="1.1"/>
<line x1="662.5" y1="530.7" x2="662.5" y2="570.0" stroke="#ff0000" stroke-width="1.1"/>
<rect x="659.5" y="538.2" width="6" height="6" fill="#ff0000"/>
<line x1="116.2" y1="433.6" x2="156.3" y2="433.6" stroke="#000" stroke-width="1.1"/>
<line x1="136.3" y1="424.5" x2="136.3" y2="449.4" stroke="#000" stroke-width="1.1"/>
<circle cx="136.3" cy="433.6" r="3.3" fill="#000"/>
<line x1="166.0" y1="436.0" x2="188.0" y2="436.0" stroke="#000" stroke-width="1.1"/>
<circle cx="177.0" cy="436.0" r="3.3" fill="#000"/>
<circle cx="223.9" cy="430.2" r="3.3" fill="#000"/>
<line x1="238.5" y1="452.4" x2="254.3" y2="452.4" stroke="#000" stroke-width="1.1"/>
<line x1="247.0" y1="447.6" x2="247.0" y2="459.7" stroke="#000" stroke-width="1.1"/>
<rect x="242.8" y="448.6" width="8.4" height="7.6" fill="none" stroke="#000" stroke-width="1"/>
<circle cx="247.0" cy="452.4" r="2.6" fill="#000"/>
<line x1="258.0" y1="454.9" x2="270.8" y2="454.9" stroke="#000" stroke-width="1.1"/>
<rect x="259.9" y="451.1" width="8.4" height="7.6" fill="none" stroke="#000" stroke-width="1"/>
<circle cx="264.1" cy="454.9" r="2.6" fill="#000"/>
<line x1="270.8" y1="479.2" x2="291.5" y2="479.2" stroke="#000" stroke-width="1.1"/>
<line x1="286.0" y1="470.0" x2="286.0" y2="499.9" stroke="#000" stroke-width="1.1"/>
<rect x="281.8" y="475.4" width="8.4" height="7.6" fill="none" stroke="#000" stroke-width="1"/>
<circle cx="286.0" cy="479.2" r="2.6" fill="#000"/>
<line x1="301.2" y1="487.1" x2="335.0" y2="487.1" stroke="#000" stroke-width="1.1"/>
<line x1="315.8" y1="478.0" x2="315.8" y2="504.2" stroke="#000" stroke-width="1.1"/>
<rect x="311.6" y="483.3" width="8.4" height="7.6" fill="none" stroke="#000" stroke-width="1"/>
<circle cx="315.8" cy="487.1" r="2.6" fill="#000"/>
<line x1="325.0" y1="488.5" x2="381.2" y2="488.5" stroke="#000" stroke-width="1.1"/>
<line x1="355.7" y1="481.2" x2="355.7" y2="500.1" stroke="#000" stroke-width="1.1"/>
<rect x="351.5" y="484.7" width="8.4" height="7.6" fill="none" stroke="#000" stroke-width="1"/>
<circle cx="355.7" cy="488.5" r="2.6" fill="#000"/>
<line x1="382.3" y1="526.2" x2="462.9" y2="526.2" stroke="#000" stroke-width="1.1"/>
<line x1="422.0" y1="512.2" x2="422.0" y2="556.0" stroke="#000" stroke-width="1.1"/>
<path d="M419.0,555.0 h6 l-3,5 z" fill="#000"/>
<circle cx="422.0" cy="526.2" r="3.3" fill="#000"/>
<line x1="462.9" y1="533.9" x2="585.8" y2="533.9" stroke="#000" stroke-width="1.1"/>
<line x1="524.4" y1="523.9" x2="524.4" y2="550.7" stroke="#000" stroke-width="1.1"/>
<circle cx="524.4" cy="533.9" r="3.3" fill="#000"/>
<line x1="585.8" y1="566.8" x2="678.9" y2="566.8" stroke="#000" stroke-width="1.1"/>
<line x1="631.8" y1="546.0" x2="631.8" y2="596.0" stroke="#000" stroke-width="1.1"/>
<path d="M628.8,595.0 h6 l-3,5 z" fill="#000"/>
<circle cx="631.8" cy="566.8" r="3.3" fill="#000"/>
</g>
<rect x="115.5" y="343.3" width="562.5" height="276.49999999999994" fill="none" stroke="#000" stroke-width="1.3"/>
<path d="M115.5,365.5 h16.4 M115.5,397.7 h8.2 M115.5,389.6 h8.2 M115.5,383.8 h8.2 M115.5,379.3 h8.2 M115.5,375.7 h8.2 M115.5,372.6 h8.2 M115.5,370.0 h8.2 M115.5,367.6 h8.2 M115.5,411.5 h16.4 M115.5,443.7 h8.2 M115.5,435.6 h8.2 M115.5,429.8 h8.2 M115.5,425.3 h8.2 M115.5,421.7 h8.2 M115.5,418.6 h8.2 M115.5,416.0 h8.2 M115.5,413.6 h8.2 M115.5,457.5 h16.4 M115.5,489.7 h8.2 M115.5,481.6 h8.2 M115.5,475.8 h8.2 M115.5,471.3 h8.2 M115.5,467.7 h8.2 M115.5,464.6 h8.2 M115.5,462.0 h8.2 M115.5,459.6 h8.2 M115.5,503.5 h16.4 M115.5,535.7 h8.2 M115.5,527.6 h8.2 M115.5,521.8 h8.2 M115.5,517.3 h8.2 M115.5,513.7 h8.2 M115.5,510.6 h8.2 M115.5,508.0 h8.2 M115.5,505.6 h8.2 M115.5,549.5 h16.4 M115.5,581.7 h8.2 M115.5,573.6 h8.2 M115.5,567.8 h8.2 M115.5,563.3 h8.2 M115.5,559.7 h8.2 M115.5,556.6 h8.2 M115.5,554.0 h8.2 M115.5,551.6 h8.2 M115.5,595.5 h16.4 M115.5,619.6 h8.2 M115.5,613.8 h8.2 M115.5,609.3 h8.2 M115.5,605.7 h8.2 M115.5,602.6 h8.2 M115.5,600.0 h8.2 M115.5,597.6 h8.2 M115.5,351.7 h8.2 M115.5,343.6 h8.2 M136.6,619.8 v-3.7 M157.0,619.8 v-3.7 M177.4,619.8 v-5.7 M197.8,619.8 v-3.7 M218.2,619.8 v-3.7 M238.6,619.8 v-3.7 M259.0,619.8 v-3.7 M279.4,619.8 v-5.7 M299.8,619.8 v-3.7 M320.2,619.8 v-3.7 M340.6,619.8 v-3.7 M361.0,619.8 v-3.7 M381.4,619.8 v-5.7 M401.8,619.8 v-3.7 M422.2,619.8 v-3.7 M442.6,619.8 v-3.7 M463.0,619.8 v-3.7 M483.4,619.8 v-5.7 M503.8,619.8 v-3.7 M524.2,619.8 v-3.7 M544.6,619.8 v-3.7 M565.0,619.8 v-3.7 M585.4,619.8 v-5.7 M605.8,619.8 v-3.7 M626.2,619.8 v-3.7 M646.6,619.8 v-3.7 M667.0,619.8 v-3.7" stroke="#000" stroke-width="1" fill="none"/>
<g font-family="Liberation Sans, sans-serif" font-size="14.3" fill="#000"><text x="177.4" y="634.6" text-anchor="middle">0.5</text><text x="279.4" y="634.6" text-anchor="middle">1</text><text x="381.4" y="634.6" text-anchor="middle">1.5</text><text x="483.4" y="634.6" text-anchor="middle">2</text><text x="585.4" y="634.6" text-anchor="middle">2.5</text></g>
<g font-family="Liberation Sans, sans-serif" font-size="15.5" fill="#000" text-anchor="end"><text x="99.3" y="418.5">10</text><text x="111" y="411.5" font-size="10.8">−6</text><text x="99.3" y="510.5">10</text><text x="111" y="503.5" font-size="10.8">−8</text><text x="93.6" y="602.6">10</text><text x="111" y="595.6" font-size="10.8">−10</text></g>
<text font-family="Liberation Sans, sans-serif" font-size="18" x="346.4" y="652.7" textLength="101.5" lengthAdjust="spacingAndGlyphs">M<tspan font-size="12.6" dy="4.3" font-family="Liberation Serif, serif">ll</tspan><tspan dy="-4.3"> (GeV/</tspan><tspan font-style="italic">c</tspan><tspan font-size="12.6" dy="-6.5">2</tspan><tspan dy="6.5">)</tspan></text>
<text font-family="Liberation Sans, sans-serif" font-size="18.45" textLength="299.4" lengthAdjust="spacingAndGlyphs" transform="translate(69,630.2) rotate(-90)">(d<tspan font-size="12.6" dy="-6.5">2</tspan><tspan dy="6.5">N</tspan><tspan font-size="11.5" dy="4.5" font-family="Liberation Serif, serif">ll</tspan><tspan dy="-4.5">/dM/dy)/(dN</tspan><tspan font-size="11.5" dy="8" dx="1">ch</tspan><tspan dy="-8" dx="1">/dy) (20 MeV/</tspan><tspan font-style="italic">c</tspan><tspan font-size="12.6" dy="-6.5">2</tspan><tspan dy="6.5">)</tspan><tspan font-size="12.6" dy="-7">-1</tspan></text>
<line x1="149.1" y1="356.4" x2="183.8" y2="356.4" stroke="#ff0000" stroke-width="1.2"/><rect x="162.7" y="352.3" width="8.2" height="8.2" fill="#ff0000"/>
<line x1="149.1" y1="377.9" x2="183.8" y2="377.9" stroke="#000" stroke-width="1.6"/><circle cx="166.7" cy="377.9" r="3.9" fill="#000"/>
<line x1="149.1" y1="400.7" x2="183.8" y2="400.7" stroke="#ff00ff" stroke-width="1.8"/><path d="M162.2,396.5 h9 l-4.5,7.5 z" fill="#ff00ff"/>
<g font-family="Liberation Sans, sans-serif" font-size="18" fill="#000"><text x="191.6" y="361.2">STAR Au+Au 54.4 GeV (0-80%)</text><text x="191.6" y="383.2">STAR Au+Au 27 GeV (0-80%)</text><text x="191.6" y="405.5" textLength="287.8" lengthAdjust="spacing">NA60 In+In 17.3 GeV (dN<tspan font-size="12" dy="7.5">ch</tspan><tspan dy="-7.5">/dη &gt; 30)</tspan></text></g>
<line x1="405.8" y1="437.6" x2="431.5" y2="437.6" stroke="#ff0000" stroke-width="2"/>
<line x1="405.8" y1="455.1" x2="431.5" y2="455.1" stroke="#000" stroke-width="2"/>
<line x1="405.8" y1="472.3" x2="431.5" y2="472.3" stroke="#ff0000" stroke-width="2" stroke-dasharray="3.6,2.6"/>
<line x1="405.8" y1="490.4" x2="431.5" y2="490.4" stroke="#000" stroke-width="2" stroke-dasharray="3.6,2.6"/>
<g font-family="Liberation Sans, sans-serif" font-size="14" fill="#000" xml:space="preserve"><text x="436.2" y="442.3">T<tspan font-size="9.8" dy="3.6">LMR</tspan><tspan dy="-3.6"> fit (54.4 GeV,</tspan><tspan x="553.5" font-family="Liberation Serif, serif">χ</tspan><tspan font-size="9.8" dy="-5.5">2</tspan><tspan dy="5.5">/ndf = 0.22)</tspan></text><text x="436.2" y="459.8">T<tspan font-size="9.8" dy="3.6">LMR</tspan><tspan dy="-3.6"> fit (27 GeV,</tspan><tspan x="552.5" font-family="Liberation Serif, serif">χ</tspan><tspan font-size="9.8" dy="-5.5">2</tspan><tspan dy="5.5">/ndf = 0.28)</tspan></text><text x="436.2" y="477.0">T<tspan font-size="9.8" dy="3.6">IMR</tspan><tspan dy="-3.6"> fit (54.4 GeV,</tspan><tspan x="553.5" font-family="Liberation Serif, serif">χ</tspan><tspan font-size="9.8" dy="-5.5">2</tspan><tspan dy="5.5">/ndf = 2.07)</tspan></text><text x="436.2" y="495.1">T<tspan font-size="9.8" dy="3.6">IMR</tspan><tspan dy="-3.6"> fit (27 GeV,</tspan><tspan x="552.5" font-family="Liberation Serif, serif">χ</tspan><tspan font-size="9.8" dy="-5.5">2</tspan><tspan dy="5.5">/ndf = 0.32)</tspan></text></g>
<line x1="167.8" y1="575.6" x2="199.8" y2="575.6" stroke="#1a1aee" stroke-width="2" stroke-dasharray="6,3,1.5,3"/>
<line x1="167.8" y1="600.6" x2="199.8" y2="600.6" stroke="#55cc44" stroke-width="2" stroke-dasharray="6,3,1.5,3"/>
<g font-family="Liberation Sans, sans-serif" font-size="15.5" fill="#000"><text x="206" y="581">Scaled from p+p (<tspan font-family="Liberation Serif, serif">ρ</tspan></text><path d="M340.6,576.6 H355.2 M352.6,574.5 L355.2,576.6 L352.6,578.7" fill="none" stroke="#000" stroke-width="1.0"/><text x="359.2" y="581"><tspan font-family="Liberation Serif, serif">π</tspan><tspan font-size="10" dy="-6">+</tspan><tspan dy="6" font-family="Liberation Serif, serif">π</tspan><tspan font-size="10" dy="-6">-</tspan><tspan dy="6">)</tspan></text><text x="206" y="606">Scaled from e<tspan font-size="10" dy="-6">+</tspan><tspan dy="6">+e</tspan><tspan font-size="10" dy="-6">-</tspan><tspan dy="6"> (</tspan><tspan font-family="Liberation Serif, serif">ρ</tspan></text><path d="M347.8,601.6 H362.4 M359.8,599.5 L362.4,601.6 L359.8,603.7" fill="none" stroke="#000" stroke-width="1.0"/><text x="366.6" y="606"><tspan font-family="Liberation Serif, serif">π</tspan><tspan font-size="10" dy="-6">+</tspan><tspan dy="6" font-family="Liberation Serif, serif">π</tspan><tspan font-size="10" dy="-6">-</tspan><tspan dy="6">)</tspan></text></g>
</svg></body></html>
